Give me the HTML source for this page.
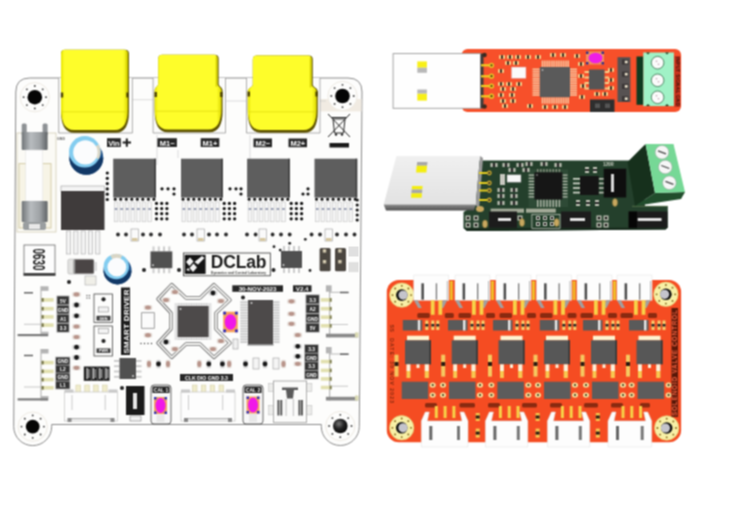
<!DOCTYPE html>
<html><head><meta charset="utf-8">
<style>
html,body{margin:0;padding:0;background:#fff;width:736px;height:515px;overflow:hidden}
svg{display:block;font-family:"Liberation Sans",sans-serif}
</style></head><body>
<svg width="736" height="515" viewBox="0 0 736 515">
<defs>
<filter id="soft" x="0" y="0" width="736" height="515" filterUnits="userSpaceOnUse" color-interpolation-filters="sRGB"><feConvolveMatrix order="3" kernelMatrix="1 2 1 2 4 2 1 2 1" divisor="16" edgeMode="duplicate"/></filter>
<linearGradient id="yel" x1="0" x2="1" y1="0" y2="0">
<stop offset="0" stop-color="#e6e400"/><stop offset="0.05" stop-color="#fefd2a"/><stop offset="0.93" stop-color="#fefd2a"/><stop offset="1" stop-color="#dcd800"/>
</linearGradient>
<linearGradient id="usbw" x1="0" x2="0" y1="0" y2="1">
<stop offset="0" stop-color="#f0f0f0"/><stop offset="1" stop-color="#e2e2e2"/>
</linearGradient>
<linearGradient id="usbs" x1="0" x2="0" y1="0" y2="1">
<stop offset="0" stop-color="#8e8e8e"/><stop offset="1" stop-color="#4e4e4e"/>
</linearGradient>
<linearGradient id="metal" x1="0" x2="1" y1="0" y2="0">
<stop offset="0" stop-color="#6f7477"/><stop offset="0.35" stop-color="#b8bcbf"/><stop offset="0.7" stop-color="#9ea2a5"/><stop offset="1" stop-color="#5f6366"/>
</linearGradient>
<radialGradient id="sph" cx="0.4" cy="0.35" r="0.7">
<stop offset="0" stop-color="#777"/><stop offset="0.5" stop-color="#222"/><stop offset="1" stop-color="#050505"/>
</radialGradient>
</defs>
<g filter="url(#soft)">
<rect x="0" y="0" width="736" height="515" fill="#fff"/>
<g id="left">
<path d="M15.8,92 Q15.8,78 29.8,78 L348,78 Q362,78 362,92 L359.3,426.5 A19,19 0 0 1 321.3,426.5 L321.3,424.5 L51.7,424.5 L51.7,426.6 A19,19 0 0 1 13.7,426.6 Z" fill="#fdfdfc" stroke="#8a8a8a" stroke-width="1"/>
<rect x="320.5" y="99.0" width="41.0" height="12.4" fill="#f1ebe2" />
<circle cx="342.5" cy="96.0" r="14.5" fill="#fdfdfc" />
<circle cx="34.8" cy="97.2" r="14.6" fill="none" stroke="#eeeae2" stroke-width="1"/>
<circle cx="34.8" cy="97.2" r="7.3" fill="#050505" />
<circle cx="46.0" cy="97.2" r="0.9" fill="#333" />
<circle cx="42.7" cy="105.1" r="0.9" fill="#333" />
<circle cx="34.8" cy="108.4" r="0.9" fill="#333" />
<circle cx="26.9" cy="105.1" r="0.9" fill="#333" />
<circle cx="23.6" cy="97.2" r="0.9" fill="#333" />
<circle cx="26.9" cy="89.3" r="0.9" fill="#333" />
<circle cx="34.8" cy="86.0" r="0.9" fill="#333" />
<circle cx="42.7" cy="89.3" r="0.9" fill="#333" />
<circle cx="342.5" cy="96.0" r="14.6" fill="none" stroke="#eeeae2" stroke-width="1"/>
<circle cx="342.5" cy="96.0" r="7.3" fill="#050505" />
<circle cx="353.7" cy="96.0" r="0.9" fill="#333" />
<circle cx="350.4" cy="103.9" r="0.9" fill="#333" />
<circle cx="342.5" cy="107.2" r="0.9" fill="#333" />
<circle cx="334.6" cy="103.9" r="0.9" fill="#333" />
<circle cx="331.3" cy="96.0" r="0.9" fill="#333" />
<circle cx="334.6" cy="88.1" r="0.9" fill="#333" />
<circle cx="342.5" cy="84.8" r="0.9" fill="#333" />
<circle cx="350.4" cy="88.1" r="0.9" fill="#333" />
<circle cx="32.7" cy="426.6" r="14.6" fill="none" stroke="#eeeae2" stroke-width="1"/>
<circle cx="32.7" cy="426.6" r="6.9" fill="#050505" />
<circle cx="43.9" cy="426.6" r="0.9" fill="#333" />
<circle cx="40.6" cy="434.5" r="0.9" fill="#333" />
<circle cx="32.7" cy="437.8" r="0.9" fill="#333" />
<circle cx="24.8" cy="434.5" r="0.9" fill="#333" />
<circle cx="21.5" cy="426.6" r="0.9" fill="#333" />
<circle cx="24.8" cy="418.7" r="0.9" fill="#333" />
<circle cx="32.7" cy="415.4" r="0.9" fill="#333" />
<circle cx="40.6" cy="418.7" r="0.9" fill="#333" />
<circle cx="340.3" cy="426.0" r="14.6" fill="none" stroke="#eeeae2" stroke-width="1"/>
<circle cx="340.3" cy="426.0" r="7.3" fill="url(#sph)" />
<circle cx="351.5" cy="426.0" r="0.9" fill="#333" />
<circle cx="348.2" cy="433.9" r="0.9" fill="#333" />
<circle cx="340.3" cy="437.2" r="0.9" fill="#333" />
<circle cx="332.4" cy="433.9" r="0.9" fill="#333" />
<circle cx="329.1" cy="426.0" r="0.9" fill="#333" />
<circle cx="332.4" cy="418.1" r="0.9" fill="#333" />
<circle cx="340.3" cy="414.8" r="0.9" fill="#333" />
<circle cx="348.2" cy="418.1" r="0.9" fill="#333" />
<path d="M132.4,99.7 L153,99.7 M157,135 L157,165 M178,150 L178,158 M226,101 L246,101 M250,135 L250,160 M320,101 L326,101" stroke="#c8c8c8" stroke-width="0.6" fill="none"/>
<path d="M58.7,78 L58.7,133 L132.4,133 L132.4,78" fill="#fcfcfb" stroke="#7a7a7a" stroke-width="0.6"/>
<path d="M153.1,78 L153.1,133 L225.5,133 L225.5,78" fill="#fcfcfb" stroke="#7a7a7a" stroke-width="0.6"/>
<path d="M246.5,78 L246.5,133 L320,133 L320,78" fill="#fcfcfb" stroke="#7a7a7a" stroke-width="0.6"/>
<path d="M61,53.7 Q61,49.7 65,49.7 L125,49.7 Q129,49.7 129,53.7 L129,90 C129,93 129,93 129,97 L129,111.80000000000001 C129,124.80000000000001 125,132.8 116,132.8 L74,132.8 C65,132.8 61,124.80000000000001 61,111.80000000000001 L61,97 C61,93 61,93 61,90 Z" fill="#5e5200"/>
<path d="M61,53.7 Q61,49.7 65,49.7 L123.8,49.7 Q127.8,49.7 127.8,53.7 L127.8,90 C127.8,93 127.8,93 127.8,97 L127.8,109.0 C127.8,122.0 123.8,130.0 114.8,130.0 L74,130.0 C65,130.0 61,122.0 61,109.0 L61,97 C61,93 61,93 61,90 Z" fill="url(#yel)"/>
<line x1="62" y1="111.80000000000001" x2="127" y2="111.80000000000001" stroke="#e0dc10" stroke-width="0.8"/>
<path d="M126.8,51.7 L126.8,93" stroke="#d4d000" stroke-width="1.6"/>
<path d="M158.2,58.7 Q158.2,54.7 162.2,54.7 L214.7,54.7 Q218.7,54.7 218.7,58.7 L218.7,83.7 C218.7,86.7 222.6,86.7 222.6,90.7 L222.6,111.19999999999999 C222.6,124.19999999999999 218.6,132.2 209.6,132.2 L167.7,132.2 C158.7,132.2 154.7,124.19999999999999 154.7,111.19999999999999 L154.7,90.7 C154.7,86.7 158.2,86.7 158.2,83.7 Z" fill="#5e5200"/>
<path d="M158.2,58.7 Q158.2,54.7 162.2,54.7 L213.5,54.7 Q217.5,54.7 217.5,58.7 L217.5,83.7 C217.5,86.7 221.4,86.7 221.4,90.7 L221.4,108.39999999999998 C221.4,121.39999999999998 217.4,129.39999999999998 208.4,129.39999999999998 L167.7,129.39999999999998 C158.7,129.39999999999998 154.7,121.39999999999998 154.7,108.39999999999998 L154.7,90.7 C154.7,86.7 158.2,86.7 158.2,83.7 Z" fill="url(#yel)"/>
<line x1="155.7" y1="111.19999999999999" x2="220.6" y2="111.19999999999999" stroke="#e0dc10" stroke-width="0.8"/>
<path d="M216.5,56.7 L216.5,86.7" stroke="#d4d000" stroke-width="1.6"/>
<path d="M252.8,59.5 Q252.8,55.5 256.8,55.5 L308.8,55.5 Q312.8,55.5 312.8,59.5 L312.8,84.5 C312.8,87.5 317.8,87.5 317.8,91.5 L317.8,111.80000000000001 C317.8,124.80000000000001 313.8,132.8 304.8,132.8 L260.8,132.8 C251.8,132.8 247.8,124.80000000000001 247.8,111.80000000000001 L247.8,91.5 C247.8,87.5 252.8,87.5 252.8,84.5 Z" fill="#5e5200"/>
<path d="M252.8,59.5 Q252.8,55.5 256.8,55.5 L307.6,55.5 Q311.6,55.5 311.6,59.5 L311.6,84.5 C311.6,87.5 316.6,87.5 316.6,91.5 L316.6,109.0 C316.6,122.0 312.6,130.0 303.6,130.0 L260.8,130.0 C251.8,130.0 247.8,122.0 247.8,109.0 L247.8,91.5 C247.8,87.5 252.8,87.5 252.8,84.5 Z" fill="url(#yel)"/>
<line x1="248.8" y1="111.80000000000001" x2="315.8" y2="111.80000000000001" stroke="#e0dc10" stroke-width="0.8"/>
<path d="M310.6,57.5 L310.6,87.5" stroke="#d4d000" stroke-width="1.6"/>
<rect x="60.8" y="92.5" width="2.4" height="5.0" fill="#4a4000" />
<rect x="126.3" y="92.5" width="2.4" height="5.0" fill="#4a4000" />
<rect x="154.5" y="92.0" width="2.4" height="5.0" fill="#4a4000" />
<rect x="220.2" y="92.0" width="2.4" height="5.0" fill="#4a4000" />
<rect x="247.6" y="91.5" width="2.4" height="5.0" fill="#4a4000" />
<rect x="315.4" y="91.5" width="2.4" height="5.0" fill="#4a4000" />
<rect x="17" y="133" width="39" height="99" fill="#fbfaf5" stroke="#d2ccb4" stroke-width="0.8"/>
<rect x="19" y="163.6" width="32" height="64.4" fill="#f7f4e6" stroke="#d4cca8" stroke-width="1"/>
<rect x="21.7" y="123.5" width="5" height="12" rx="1.5" fill="#8d9194"/>
<rect x="42.6" y="123.5" width="5" height="12" rx="1.5" fill="#8d9194"/>
<rect x="21.7" y="132" width="25.9" height="18" rx="1" fill="url(#metal)"/>
<rect x="25.8" y="150" width="17" height="51" fill="#fdfdfd" stroke="#ddd" stroke-width="0.5"/>
<rect x="21.7" y="201" width="25.9" height="21" rx="1" fill="url(#metal)"/>
<rect x="23" y="222" width="23" height="8" rx="2" fill="#9a9ea0"/>
<rect x="29" y="224" width="11" height="5" fill="#e8e8e8"/>
<circle cx="86.3" cy="157.7" r="17.0" fill="#1d5088" />
<path d="M69.3,157.7 A17,17 0 0 0 103.3,157.7 Z" fill="#123866"/>
<circle cx="84.8" cy="151.8" r="15.8" fill="#84cdf0" />
<path d="M84.8,151.8 L98.8,144.4 A15.8,15.8 0 0 1 98.8,159.2 Z" fill="#d9d6c6"/>
<circle cx="85.4" cy="152.4" r="12.2" fill="#fbfcfd" />
<circle cx="117.5" cy="270.4" r="14.0" fill="#1d5088" />
<path d="M103.5,270.4 A14,14 0 0 0 131.5,270.4 Z" fill="#123866"/>
<circle cx="116.3" cy="266.6" r="12.7" fill="#84cdf0" />
<path d="M116.3,266.6 L110.3,255.4 A12.7,12.7 0 0 1 122.3,255.4 Z" fill="#d9d6c6"/>
<circle cx="116.9" cy="267.2" r="9.4" fill="#fbfcfd" />
<rect x="61.0" y="186.0" width="43.5" height="5.5" fill="#f4f4f4" stroke="#999" stroke-width="0.6"/>
<rect x="61.0" y="191.0" width="43.5" height="39.0" fill="#3f3b3b" />
<rect x="66.5" y="231.0" width="4.2" height="23.0" fill="#f2f2f2" stroke="#a8a8a8" stroke-width="0.6"/>
<rect x="73.8" y="231.0" width="4.2" height="23.0" fill="#f2f2f2" stroke="#a8a8a8" stroke-width="0.6"/>
<rect x="81.1" y="231.0" width="4.2" height="23.0" fill="#f2f2f2" stroke="#a8a8a8" stroke-width="0.6"/>
<rect x="88.4" y="231.0" width="4.2" height="23.0" fill="#f2f2f2" stroke="#a8a8a8" stroke-width="0.6"/>
<rect x="95.7" y="231.0" width="4.2" height="23.0" fill="#f2f2f2" stroke="#a8a8a8" stroke-width="0.6"/>
<rect x="113.2" y="158.7" width="42.7" height="38.9" fill="#5e5e5e" />
<rect x="154.4" y="158.7" width="1.5" height="38.9" fill="#3c3c3c" />
<circle cx="115.2" cy="199.3" r="1.5" fill="#111" />
<circle cx="120.7" cy="199.3" r="1.5" fill="#111" />
<circle cx="126.3" cy="199.3" r="1.5" fill="#111" />
<circle cx="131.8" cy="199.3" r="1.5" fill="#111" />
<circle cx="137.3" cy="199.3" r="1.5" fill="#111" />
<circle cx="142.8" cy="199.3" r="1.5" fill="#111" />
<circle cx="148.4" cy="199.3" r="1.5" fill="#111" />
<circle cx="153.9" cy="199.3" r="1.5" fill="#111" />
<rect x="114.2" y="202.0" width="3.6" height="19.8" fill="#f6f6f6" stroke="#b9b9b9" stroke-width="0.5"/>
<rect x="114.7" y="208.0" width="2.6" height="2.0" fill="#9aa0b4" />
<rect x="119.8" y="202.0" width="3.6" height="19.8" fill="#f6f6f6" stroke="#b9b9b9" stroke-width="0.5"/>
<rect x="120.3" y="208.0" width="2.6" height="2.0" fill="#9aa0b4" />
<rect x="125.4" y="202.0" width="3.6" height="19.8" fill="#f6f6f6" stroke="#b9b9b9" stroke-width="0.5"/>
<rect x="125.9" y="208.0" width="2.6" height="2.0" fill="#9aa0b4" />
<rect x="131.0" y="202.0" width="3.6" height="19.8" fill="#f6f6f6" stroke="#b9b9b9" stroke-width="0.5"/>
<rect x="131.5" y="208.0" width="2.6" height="2.0" fill="#9aa0b4" />
<rect x="136.6" y="202.0" width="3.6" height="19.8" fill="#f6f6f6" stroke="#b9b9b9" stroke-width="0.5"/>
<rect x="137.1" y="208.0" width="2.6" height="2.0" fill="#9aa0b4" />
<rect x="142.2" y="202.0" width="3.6" height="19.8" fill="#f6f6f6" stroke="#b9b9b9" stroke-width="0.5"/>
<rect x="142.7" y="208.0" width="2.6" height="2.0" fill="#9aa0b4" />
<rect x="147.8" y="202.0" width="3.6" height="19.8" fill="#f6f6f6" stroke="#b9b9b9" stroke-width="0.5"/>
<rect x="148.3" y="208.0" width="2.6" height="2.0" fill="#9aa0b4" />
<rect x="181.0" y="158.7" width="41.8" height="38.9" fill="#5e5e5e" />
<rect x="221.3" y="158.7" width="1.5" height="38.9" fill="#3c3c3c" />
<circle cx="183.0" cy="199.3" r="1.5" fill="#111" />
<circle cx="188.4" cy="199.3" r="1.5" fill="#111" />
<circle cx="193.8" cy="199.3" r="1.5" fill="#111" />
<circle cx="199.2" cy="199.3" r="1.5" fill="#111" />
<circle cx="204.6" cy="199.3" r="1.5" fill="#111" />
<circle cx="210.0" cy="199.3" r="1.5" fill="#111" />
<circle cx="215.4" cy="199.3" r="1.5" fill="#111" />
<circle cx="220.8" cy="199.3" r="1.5" fill="#111" />
<rect x="182.0" y="202.0" width="3.6" height="19.8" fill="#f6f6f6" stroke="#b9b9b9" stroke-width="0.5"/>
<rect x="182.5" y="208.0" width="2.6" height="2.0" fill="#9aa0b4" />
<rect x="187.6" y="202.0" width="3.6" height="19.8" fill="#f6f6f6" stroke="#b9b9b9" stroke-width="0.5"/>
<rect x="188.1" y="208.0" width="2.6" height="2.0" fill="#9aa0b4" />
<rect x="193.2" y="202.0" width="3.6" height="19.8" fill="#f6f6f6" stroke="#b9b9b9" stroke-width="0.5"/>
<rect x="193.7" y="208.0" width="2.6" height="2.0" fill="#9aa0b4" />
<rect x="198.8" y="202.0" width="3.6" height="19.8" fill="#f6f6f6" stroke="#b9b9b9" stroke-width="0.5"/>
<rect x="199.3" y="208.0" width="2.6" height="2.0" fill="#9aa0b4" />
<rect x="204.4" y="202.0" width="3.6" height="19.8" fill="#f6f6f6" stroke="#b9b9b9" stroke-width="0.5"/>
<rect x="204.9" y="208.0" width="2.6" height="2.0" fill="#9aa0b4" />
<rect x="210.0" y="202.0" width="3.6" height="19.8" fill="#f6f6f6" stroke="#b9b9b9" stroke-width="0.5"/>
<rect x="210.5" y="208.0" width="2.6" height="2.0" fill="#9aa0b4" />
<rect x="215.6" y="202.0" width="3.6" height="19.8" fill="#f6f6f6" stroke="#b9b9b9" stroke-width="0.5"/>
<rect x="216.1" y="208.0" width="2.6" height="2.0" fill="#9aa0b4" />
<rect x="247.1" y="158.7" width="42.7" height="38.9" fill="#5e5e5e" />
<rect x="288.3" y="158.7" width="1.5" height="38.9" fill="#3c3c3c" />
<circle cx="249.1" cy="199.3" r="1.5" fill="#111" />
<circle cx="254.6" cy="199.3" r="1.5" fill="#111" />
<circle cx="260.2" cy="199.3" r="1.5" fill="#111" />
<circle cx="265.7" cy="199.3" r="1.5" fill="#111" />
<circle cx="271.2" cy="199.3" r="1.5" fill="#111" />
<circle cx="276.7" cy="199.3" r="1.5" fill="#111" />
<circle cx="282.3" cy="199.3" r="1.5" fill="#111" />
<circle cx="287.8" cy="199.3" r="1.5" fill="#111" />
<rect x="248.1" y="202.0" width="3.6" height="19.8" fill="#f6f6f6" stroke="#b9b9b9" stroke-width="0.5"/>
<rect x="248.6" y="208.0" width="2.6" height="2.0" fill="#9aa0b4" />
<rect x="253.7" y="202.0" width="3.6" height="19.8" fill="#f6f6f6" stroke="#b9b9b9" stroke-width="0.5"/>
<rect x="254.2" y="208.0" width="2.6" height="2.0" fill="#9aa0b4" />
<rect x="259.3" y="202.0" width="3.6" height="19.8" fill="#f6f6f6" stroke="#b9b9b9" stroke-width="0.5"/>
<rect x="259.8" y="208.0" width="2.6" height="2.0" fill="#9aa0b4" />
<rect x="264.9" y="202.0" width="3.6" height="19.8" fill="#f6f6f6" stroke="#b9b9b9" stroke-width="0.5"/>
<rect x="265.4" y="208.0" width="2.6" height="2.0" fill="#9aa0b4" />
<rect x="270.5" y="202.0" width="3.6" height="19.8" fill="#f6f6f6" stroke="#b9b9b9" stroke-width="0.5"/>
<rect x="271.0" y="208.0" width="2.6" height="2.0" fill="#9aa0b4" />
<rect x="276.1" y="202.0" width="3.6" height="19.8" fill="#f6f6f6" stroke="#b9b9b9" stroke-width="0.5"/>
<rect x="276.6" y="208.0" width="2.6" height="2.0" fill="#9aa0b4" />
<rect x="281.7" y="202.0" width="3.6" height="19.8" fill="#f6f6f6" stroke="#b9b9b9" stroke-width="0.5"/>
<rect x="282.2" y="208.0" width="2.6" height="2.0" fill="#9aa0b4" />
<rect x="314.5" y="158.7" width="42.7" height="38.9" fill="#5e5e5e" />
<rect x="355.7" y="158.7" width="1.5" height="38.9" fill="#3c3c3c" />
<circle cx="316.5" cy="199.3" r="1.5" fill="#111" />
<circle cx="322.0" cy="199.3" r="1.5" fill="#111" />
<circle cx="327.6" cy="199.3" r="1.5" fill="#111" />
<circle cx="333.1" cy="199.3" r="1.5" fill="#111" />
<circle cx="338.6" cy="199.3" r="1.5" fill="#111" />
<circle cx="344.1" cy="199.3" r="1.5" fill="#111" />
<circle cx="349.7" cy="199.3" r="1.5" fill="#111" />
<circle cx="355.2" cy="199.3" r="1.5" fill="#111" />
<rect x="315.5" y="202.0" width="3.6" height="19.8" fill="#f6f6f6" stroke="#b9b9b9" stroke-width="0.5"/>
<rect x="316.0" y="208.0" width="2.6" height="2.0" fill="#9aa0b4" />
<rect x="321.1" y="202.0" width="3.6" height="19.8" fill="#f6f6f6" stroke="#b9b9b9" stroke-width="0.5"/>
<rect x="321.6" y="208.0" width="2.6" height="2.0" fill="#9aa0b4" />
<rect x="326.7" y="202.0" width="3.6" height="19.8" fill="#f6f6f6" stroke="#b9b9b9" stroke-width="0.5"/>
<rect x="327.2" y="208.0" width="2.6" height="2.0" fill="#9aa0b4" />
<rect x="332.3" y="202.0" width="3.6" height="19.8" fill="#f6f6f6" stroke="#b9b9b9" stroke-width="0.5"/>
<rect x="332.8" y="208.0" width="2.6" height="2.0" fill="#9aa0b4" />
<rect x="337.9" y="202.0" width="3.6" height="19.8" fill="#f6f6f6" stroke="#b9b9b9" stroke-width="0.5"/>
<rect x="338.4" y="208.0" width="2.6" height="2.0" fill="#9aa0b4" />
<rect x="343.5" y="202.0" width="3.6" height="19.8" fill="#f6f6f6" stroke="#b9b9b9" stroke-width="0.5"/>
<rect x="344.0" y="208.0" width="2.6" height="2.0" fill="#9aa0b4" />
<rect x="349.1" y="202.0" width="3.6" height="19.8" fill="#f6f6f6" stroke="#b9b9b9" stroke-width="0.5"/>
<rect x="349.6" y="208.0" width="2.6" height="2.0" fill="#9aa0b4" />
<circle cx="156.5" cy="203.4" r="1.6" fill="#111" />
<circle cx="156.5" cy="208.6" r="1.6" fill="#111" />
<circle cx="156.5" cy="213.7" r="1.6" fill="#111" />
<circle cx="156.5" cy="218.8" r="1.6" fill="#111" />
<circle cx="161.7" cy="203.4" r="1.6" fill="#111" />
<circle cx="161.7" cy="208.6" r="1.6" fill="#111" />
<circle cx="161.7" cy="213.7" r="1.6" fill="#111" />
<circle cx="161.7" cy="218.8" r="1.6" fill="#111" />
<circle cx="166.9" cy="203.4" r="1.6" fill="#111" />
<circle cx="166.9" cy="208.6" r="1.6" fill="#111" />
<circle cx="166.9" cy="213.7" r="1.6" fill="#111" />
<circle cx="166.9" cy="218.8" r="1.6" fill="#111" />
<circle cx="224.2" cy="203.4" r="1.6" fill="#111" />
<circle cx="224.2" cy="208.6" r="1.6" fill="#111" />
<circle cx="224.2" cy="213.7" r="1.6" fill="#111" />
<circle cx="224.2" cy="218.8" r="1.6" fill="#111" />
<circle cx="229.4" cy="203.4" r="1.6" fill="#111" />
<circle cx="229.4" cy="208.6" r="1.6" fill="#111" />
<circle cx="229.4" cy="213.7" r="1.6" fill="#111" />
<circle cx="229.4" cy="218.8" r="1.6" fill="#111" />
<circle cx="234.6" cy="203.4" r="1.6" fill="#111" />
<circle cx="234.6" cy="208.6" r="1.6" fill="#111" />
<circle cx="234.6" cy="213.7" r="1.6" fill="#111" />
<circle cx="234.6" cy="218.8" r="1.6" fill="#111" />
<circle cx="291.2" cy="203.4" r="1.6" fill="#111" />
<circle cx="291.2" cy="208.6" r="1.6" fill="#111" />
<circle cx="291.2" cy="213.7" r="1.6" fill="#111" />
<circle cx="291.2" cy="218.8" r="1.6" fill="#111" />
<circle cx="296.4" cy="203.4" r="1.6" fill="#111" />
<circle cx="296.4" cy="208.6" r="1.6" fill="#111" />
<circle cx="296.4" cy="213.7" r="1.6" fill="#111" />
<circle cx="296.4" cy="218.8" r="1.6" fill="#111" />
<circle cx="301.6" cy="203.4" r="1.6" fill="#111" />
<circle cx="301.6" cy="208.6" r="1.6" fill="#111" />
<circle cx="301.6" cy="213.7" r="1.6" fill="#111" />
<circle cx="301.6" cy="218.8" r="1.6" fill="#111" />
<circle cx="357.2" cy="200.0" r="1.6" fill="#111" />
<circle cx="357.2" cy="205.0" r="1.6" fill="#111" />
<circle cx="357.2" cy="210.0" r="1.6" fill="#111" />
<circle cx="357.2" cy="215.0" r="1.6" fill="#111" />
<circle cx="357.2" cy="220.0" r="1.6" fill="#111" />
<circle cx="107.3" cy="173.0" r="1.6" fill="#111" />
<circle cx="107.3" cy="178.3" r="1.6" fill="#111" />
<circle cx="107.3" cy="183.6" r="1.6" fill="#111" />
<circle cx="107.3" cy="188.9" r="1.6" fill="#111" />
<circle cx="107.3" cy="194.2" r="1.6" fill="#111" />
<circle cx="107.3" cy="199.5" r="1.6" fill="#111" />
<circle cx="162.0" cy="188.8" r="1.6" fill="#111" />
<circle cx="168.0" cy="188.8" r="1.6" fill="#111" />
<circle cx="174.0" cy="188.8" r="1.6" fill="#111" />
<circle cx="174.0" cy="194.0" r="1.6" fill="#111" />
<circle cx="230.0" cy="188.8" r="1.6" fill="#111" />
<circle cx="236.0" cy="188.8" r="1.6" fill="#111" />
<circle cx="241.0" cy="188.8" r="1.6" fill="#111" />
<circle cx="241.0" cy="194.0" r="1.6" fill="#111" />
<circle cx="303.0" cy="194.0" r="1.6" fill="#111" />
<circle cx="308.0" cy="194.0" r="1.6" fill="#111" />
<circle cx="308.0" cy="188.8" r="1.6" fill="#111" />
<circle cx="118.0" cy="234.5" r="1.9" fill="#2a2a2a" />
<circle cx="126.0" cy="234.5" r="1.9" fill="#2a2a2a" />
<circle cx="143.0" cy="234.5" r="1.9" fill="#2a2a2a" />
<circle cx="151.0" cy="234.5" r="1.9" fill="#2a2a2a" />
<circle cx="160.0" cy="234.5" r="1.9" fill="#2a2a2a" />
<circle cx="184.0" cy="234.5" r="1.9" fill="#2a2a2a" />
<circle cx="192.0" cy="234.5" r="1.9" fill="#2a2a2a" />
<circle cx="209.0" cy="234.5" r="1.9" fill="#2a2a2a" />
<circle cx="217.0" cy="234.5" r="1.9" fill="#2a2a2a" />
<circle cx="226.0" cy="234.5" r="1.9" fill="#2a2a2a" />
<circle cx="247.0" cy="234.5" r="1.9" fill="#2a2a2a" />
<circle cx="255.6" cy="234.5" r="1.9" fill="#2a2a2a" />
<circle cx="272.6" cy="234.5" r="1.9" fill="#2a2a2a" />
<circle cx="281.0" cy="234.5" r="1.9" fill="#2a2a2a" />
<circle cx="289.7" cy="234.5" r="1.9" fill="#2a2a2a" />
<circle cx="311.6" cy="234.5" r="1.9" fill="#2a2a2a" />
<circle cx="320.0" cy="234.5" r="1.9" fill="#2a2a2a" />
<circle cx="337.0" cy="234.5" r="1.9" fill="#2a2a2a" />
<circle cx="346.0" cy="234.5" r="1.9" fill="#2a2a2a" />
<circle cx="354.5" cy="234.5" r="1.9" fill="#2a2a2a" />
<rect x="131.0" y="229.0" width="7.5" height="12.0" fill="#fafafa" stroke="#999" stroke-width="0.6"/>
<rect x="132.0" y="238.0" width="5.5" height="3.0" fill="#d6c7a0" />
<rect x="197.0" y="229.0" width="7.5" height="12.0" fill="#fafafa" stroke="#999" stroke-width="0.6"/>
<rect x="198.0" y="238.0" width="5.5" height="3.0" fill="#d6c7a0" />
<rect x="259.0" y="229.0" width="7.5" height="12.0" fill="#fafafa" stroke="#999" stroke-width="0.6"/>
<rect x="260.0" y="238.0" width="5.5" height="3.0" fill="#d6c7a0" />
<rect x="325.0" y="229.0" width="7.5" height="12.0" fill="#fafafa" stroke="#999" stroke-width="0.6"/>
<rect x="326.0" y="238.0" width="5.5" height="3.0" fill="#d6c7a0" />
<text x="57.0" y="140.0" font-size="3.6" fill="#666" font-weight="bold" >GND</text>
<rect x="107.0" y="138.2" width="13.8" height="8.8" fill="#262626" />
<text x="113.9" y="145.8" font-size="7.5" fill="#fff" font-weight="bold" text-anchor="middle">Vin</text>
<path d="M122.6,142.6 L131,142.6 M126.8,138.4 L126.8,146.8" stroke="#1a1a1a" stroke-width="2"/>
<rect x="157.4" y="138.2" width="19.5" height="8.8" fill="#262626" />
<text x="167.2" y="145.8" font-size="7.5" fill="#fff" font-weight="bold" text-anchor="middle">M1&#8722;</text>
<rect x="200.7" y="138.2" width="18.6" height="8.8" fill="#262626" />
<text x="210.0" y="145.8" font-size="7.5" fill="#fff" font-weight="bold" text-anchor="middle">M1+</text>
<rect x="253.5" y="138.5" width="18.5" height="8.7" fill="#262626" />
<text x="262.8" y="146.0" font-size="7.5" fill="#fff" font-weight="bold" text-anchor="middle">M2&#8722;</text>
<rect x="288.5" y="138.5" width="18.5" height="8.7" fill="#262626" />
<text x="297.8" y="146.0" font-size="7.5" fill="#fff" font-weight="bold" text-anchor="middle">M2+</text>
<g stroke="#222" stroke-width="1" fill="none"><path d="M333,119 L345,119 L343.5,133 L334.5,133 Z"/><path d="M331,117.5 L347,117.5"/><path d="M328,114 L350,137 M350,114 L328,137"/></g>
<circle cx="336.0" cy="134.5" r="1.2" fill="#222" />
<circle cx="342.0" cy="134.5" r="1.2" fill="#222" />
<rect x="329.5" y="143.0" width="19.5" height="4.5" fill="#1a1a1a" />
<rect x="24.0" y="245.0" width="31.0" height="30.3" fill="#fdfdfd" stroke="#666" stroke-width="0.8"/>
<rect x="23.6" y="273.0" width="31.8" height="2.8" fill="#444" />
<text x="0.0" y="0.0" font-size="16.5" fill="#1a1a1a" font-weight="bold" transform="translate(32.6,248.5) rotate(90)" textLength="22" lengthAdjust="spacingAndGlyphs">0630</text>
<rect x="67.9" y="259.2" width="26" height="14.8" rx="1.5" fill="#e2e2e0" stroke="#b0b0b0" stroke-width="0.6"/>
<rect x="93.5" y="262.0" width="3.5" height="9.0" fill="#dcdcdc" />
<rect x="73.7" y="259.6" width="20" height="14" rx="1.2" fill="#4a4545"/>
<rect x="73.7" y="259.6" width="1.5" height="14.0" fill="#9a9a9a" />
<rect x="85.0" y="276.0" width="11.0" height="9.0" fill="#f0efe8" stroke="#aaa" stroke-width="0.6"/>
<circle cx="69.0" cy="282.0" r="2.0" fill="#222" />
<rect x="152.5" y="246.4" width="2.0" height="5.0" fill="#ccc" />
<rect x="152.5" y="268.2" width="2.0" height="5.0" fill="#ccc" />
<rect x="157.8" y="246.4" width="2.0" height="5.0" fill="#ccc" />
<rect x="157.8" y="268.2" width="2.0" height="5.0" fill="#ccc" />
<rect x="163.0" y="246.4" width="2.0" height="5.0" fill="#ccc" />
<rect x="163.0" y="268.2" width="2.0" height="5.0" fill="#ccc" />
<rect x="168.3" y="246.4" width="2.0" height="5.0" fill="#ccc" />
<rect x="168.3" y="268.2" width="2.0" height="5.0" fill="#ccc" />
<rect x="150.5" y="251.4" width="21.8" height="16.8" fill="#505050" />
<circle cx="153.0" cy="265.2" r="0.9" fill="#ddd" />
<rect x="283.0" y="246.0" width="2.0" height="5.0" fill="#ccc" />
<rect x="283.0" y="268.0" width="2.0" height="5.0" fill="#ccc" />
<rect x="288.0" y="246.0" width="2.0" height="5.0" fill="#ccc" />
<rect x="288.0" y="268.0" width="2.0" height="5.0" fill="#ccc" />
<rect x="293.0" y="246.0" width="2.0" height="5.0" fill="#ccc" />
<rect x="293.0" y="268.0" width="2.0" height="5.0" fill="#ccc" />
<rect x="298.0" y="246.0" width="2.0" height="5.0" fill="#ccc" />
<rect x="298.0" y="268.0" width="2.0" height="5.0" fill="#ccc" />
<rect x="281.0" y="251.0" width="21.0" height="17.0" fill="#505050" />
<circle cx="283.5" cy="265.0" r="0.9" fill="#ddd" />
<rect x="114.0" y="360.0" width="5.5" height="1.8" fill="#c8c8c8" />
<rect x="136.0" y="360.0" width="5.5" height="1.8" fill="#c8c8c8" />
<rect x="114.0" y="365.3" width="5.5" height="1.8" fill="#c8c8c8" />
<rect x="136.0" y="365.3" width="5.5" height="1.8" fill="#c8c8c8" />
<rect x="114.0" y="370.6" width="5.5" height="1.8" fill="#c8c8c8" />
<rect x="136.0" y="370.6" width="5.5" height="1.8" fill="#c8c8c8" />
<rect x="114.0" y="375.9" width="5.5" height="1.8" fill="#c8c8c8" />
<rect x="136.0" y="375.9" width="5.5" height="1.8" fill="#c8c8c8" />
<rect x="119.5" y="358.0" width="16.5" height="21.0" fill="#505050" />
<circle cx="133.0" cy="376.0" r="0.9" fill="#ddd" />
<rect x="183.4" y="253.0" width="86.9" height="22.8" fill="#fcfcfa" stroke="#333" stroke-width="0.8"/>
<rect x="184.7" y="254.8" width="20.9" height="19.1" fill="#141414" />
<path d="M186,262 L190,257.5 L193.5,261.5 L189.5,266 Z M189.5,268 L193.5,263.5 L197,267.5 L193,272 Z M194.5,262 L202,256 L204.5,258 L198,264.5 Z M186,270 L188.5,268 L190,271 Z" fill="#f4f4f4"/>
<text x="210.8" y="268.2" font-size="17.5" fill="#1a1a1a" font-weight="bold" textLength="55.7">DCLab</text>
<text x="211.0" y="273.6" font-size="3.2" fill="#333" font-weight="bold" textLength="55">Dynamics and Control Laboratory</text>
<circle cx="144.0" cy="270.0" r="2.0" fill="#222" />
<circle cx="179.0" cy="270.0" r="2.0" fill="#222" />
<circle cx="273.5" cy="270.0" r="2.0" fill="#222" />
<rect x="319.6" y="248.1" width="11" height="23.1" rx="1.5" fill="#4b4640"/>
<rect x="322.8" y="249.2" width="3.4" height="3.4" fill="#d4cab0" />
<rect x="322.8" y="260.0" width="3.4" height="3.4" fill="#d4cab0" />
<rect x="335" y="248.1" width="11" height="23.1" rx="1.5" fill="#4b4640"/>
<rect x="338.2" y="249.2" width="3.4" height="3.4" fill="#d4cab0" />
<rect x="338.2" y="260.0" width="3.4" height="3.4" fill="#d4cab0" />
<rect x="349.0" y="247.0" width="1.0" height="1.0" fill="#8a8a8a" />
<rect x="349.0" y="249.0" width="1.0" height="1.0" fill="#8a8a8a" />
<rect x="349.0" y="251.0" width="1.0" height="1.0" fill="#8a8a8a" />
<rect x="349.0" y="253.0" width="1.0" height="1.0" fill="#8a8a8a" />
<rect x="349.0" y="255.0" width="1.0" height="1.0" fill="#8a8a8a" />
<rect x="351.0" y="247.0" width="1.0" height="1.0" fill="#8a8a8a" />
<rect x="351.0" y="249.0" width="1.0" height="1.0" fill="#8a8a8a" />
<rect x="351.0" y="251.0" width="1.0" height="1.0" fill="#8a8a8a" />
<rect x="351.0" y="253.0" width="1.0" height="1.0" fill="#8a8a8a" />
<rect x="351.0" y="255.0" width="1.0" height="1.0" fill="#8a8a8a" />
<rect x="353.0" y="247.0" width="1.0" height="1.0" fill="#8a8a8a" />
<rect x="353.0" y="249.0" width="1.0" height="1.0" fill="#8a8a8a" />
<rect x="353.0" y="251.0" width="1.0" height="1.0" fill="#8a8a8a" />
<rect x="353.0" y="253.0" width="1.0" height="1.0" fill="#8a8a8a" />
<rect x="353.0" y="255.0" width="1.0" height="1.0" fill="#8a8a8a" />
<rect x="355.0" y="247.0" width="1.0" height="1.0" fill="#8a8a8a" />
<rect x="355.0" y="249.0" width="1.0" height="1.0" fill="#8a8a8a" />
<rect x="355.0" y="251.0" width="1.0" height="1.0" fill="#8a8a8a" />
<rect x="355.0" y="253.0" width="1.0" height="1.0" fill="#8a8a8a" />
<rect x="355.0" y="255.0" width="1.0" height="1.0" fill="#8a8a8a" />
<rect x="357.0" y="247.0" width="1.0" height="1.0" fill="#8a8a8a" />
<rect x="357.0" y="249.0" width="1.0" height="1.0" fill="#8a8a8a" />
<rect x="357.0" y="251.0" width="1.0" height="1.0" fill="#8a8a8a" />
<rect x="357.0" y="253.0" width="1.0" height="1.0" fill="#8a8a8a" />
<rect x="357.0" y="255.0" width="1.0" height="1.0" fill="#8a8a8a" />
<rect x="349.0" y="262.6" width="1.0" height="1.0" fill="#8a8a8a" />
<rect x="349.0" y="264.6" width="1.0" height="1.0" fill="#8a8a8a" />
<rect x="349.0" y="266.6" width="1.0" height="1.0" fill="#8a8a8a" />
<rect x="349.0" y="268.6" width="1.0" height="1.0" fill="#8a8a8a" />
<rect x="349.0" y="270.6" width="1.0" height="1.0" fill="#8a8a8a" />
<rect x="351.0" y="262.6" width="1.0" height="1.0" fill="#8a8a8a" />
<rect x="351.0" y="264.6" width="1.0" height="1.0" fill="#8a8a8a" />
<rect x="351.0" y="266.6" width="1.0" height="1.0" fill="#8a8a8a" />
<rect x="351.0" y="268.6" width="1.0" height="1.0" fill="#8a8a8a" />
<rect x="351.0" y="270.6" width="1.0" height="1.0" fill="#8a8a8a" />
<rect x="353.0" y="262.6" width="1.0" height="1.0" fill="#8a8a8a" />
<rect x="353.0" y="264.6" width="1.0" height="1.0" fill="#8a8a8a" />
<rect x="353.0" y="266.6" width="1.0" height="1.0" fill="#8a8a8a" />
<rect x="353.0" y="268.6" width="1.0" height="1.0" fill="#8a8a8a" />
<rect x="353.0" y="270.6" width="1.0" height="1.0" fill="#8a8a8a" />
<rect x="355.0" y="262.6" width="1.0" height="1.0" fill="#8a8a8a" />
<rect x="355.0" y="264.6" width="1.0" height="1.0" fill="#8a8a8a" />
<rect x="355.0" y="266.6" width="1.0" height="1.0" fill="#8a8a8a" />
<rect x="355.0" y="268.6" width="1.0" height="1.0" fill="#8a8a8a" />
<rect x="355.0" y="270.6" width="1.0" height="1.0" fill="#8a8a8a" />
<rect x="357.0" y="262.6" width="1.0" height="1.0" fill="#8a8a8a" />
<rect x="357.0" y="264.6" width="1.0" height="1.0" fill="#8a8a8a" />
<rect x="357.0" y="266.6" width="1.0" height="1.0" fill="#8a8a8a" />
<rect x="357.0" y="268.6" width="1.0" height="1.0" fill="#8a8a8a" />
<rect x="357.0" y="270.6" width="1.0" height="1.0" fill="#8a8a8a" />
<circle cx="305.3" cy="239.3" r="1.4" fill="#222" />
<circle cx="274.0" cy="246.7" r="1.4" fill="#222" />
<circle cx="280.2" cy="250.1" r="1.4" fill="#222" />
<circle cx="289.7" cy="243.3" r="1.4" fill="#222" />
<circle cx="310.0" cy="270.5" r="1.4" fill="#222" />
<rect x="232.3" y="285.3" width="50.7" height="6.5" fill="#262626" />
<text x="257.6" y="290.6" font-size="6.2" fill="#fff" font-weight="bold" text-anchor="middle">30-NOV-2023</text>
<rect x="293.0" y="285.3" width="18.5" height="6.5" fill="#262626" />
<text x="302.2" y="290.6" font-size="6.2" fill="#fff" font-weight="bold" text-anchor="middle">V2.4</text>
<line x1="41" y1="286.3" x2="41" y2="336.2" stroke="#a9a9a9" stroke-width="1"/>
<rect x="41.0" y="286.3" width="7.5" height="4.5" fill="#b4b4b4" />
<rect x="41.0" y="331.7" width="7.5" height="4.5" fill="#b8b8b8" />
<line x1="24" y1="292.8" x2="33" y2="292.8" stroke="#5a5a5a" stroke-width="1.4"/>
<line x1="24" y1="324.3" x2="41" y2="324.3" stroke="#b9b9b9" stroke-width="0.8"/>
<rect x="17.6" y="334.0" width="30.4" height="2.2" fill="#7a7a7a" />
<rect x="41.6" y="298.1" width="12.0" height="3.6" fill="#e2e0b0" />
<rect x="41.6" y="298.1" width="2.0" height="3.6" fill="#6a6a40" />
<rect x="41.6" y="306.9" width="12.0" height="3.6" fill="#e2e0b0" />
<rect x="41.6" y="306.9" width="2.0" height="3.6" fill="#6a6a40" />
<rect x="41.6" y="315.1" width="12.0" height="3.6" fill="#e2e0b0" />
<rect x="41.6" y="315.1" width="2.0" height="3.6" fill="#6a6a40" />
<rect x="41.6" y="323.3" width="12.0" height="3.6" fill="#e2e0b0" />
<rect x="41.6" y="323.3" width="2.0" height="3.6" fill="#6a6a40" />
<line x1="41" y1="349" x2="41" y2="400.5" stroke="#a9a9a9" stroke-width="1"/>
<rect x="41.0" y="349.0" width="7.5" height="4.5" fill="#b4b4b4" />
<rect x="41.0" y="396.0" width="7.5" height="4.5" fill="#b8b8b8" />
<line x1="24" y1="355.5" x2="33" y2="355.5" stroke="#5a5a5a" stroke-width="1.4"/>
<line x1="24" y1="387" x2="41" y2="387" stroke="#b9b9b9" stroke-width="0.8"/>
<rect x="17.6" y="398.3" width="30.4" height="2.2" fill="#7a7a7a" />
<rect x="41.6" y="360.8" width="12.0" height="3.6" fill="#e2e0b0" />
<rect x="41.6" y="360.8" width="2.0" height="3.6" fill="#6a6a40" />
<rect x="41.6" y="369.6" width="12.0" height="3.6" fill="#e2e0b0" />
<rect x="41.6" y="369.6" width="2.0" height="3.6" fill="#6a6a40" />
<rect x="41.6" y="377.8" width="12.0" height="3.6" fill="#e2e0b0" />
<rect x="41.6" y="377.8" width="2.0" height="3.6" fill="#6a6a40" />
<rect x="41.6" y="386.0" width="12.0" height="3.6" fill="#e2e0b0" />
<rect x="41.6" y="386.0" width="2.0" height="3.6" fill="#6a6a40" />
<line x1="329.7" y1="286.3" x2="329.7" y2="337.4" stroke="#a9a9a9" stroke-width="1"/>
<rect x="325.9" y="285.3" width="5.7" height="6.4" fill="#b4b4b4" />
<line x1="329.7" y1="292.3" x2="348.6" y2="292.3" stroke="#b0b0b0" stroke-width="0.9"/>
<line x1="340" y1="292.5" x2="348.6" y2="292.5" stroke="#5a5a5a" stroke-width="1.4"/>
<line x1="330" y1="324.5" x2="348" y2="324.5" stroke="#b9b9b9" stroke-width="0.8"/>
<rect x="325.9" y="333.7" width="32.1" height="3.7" fill="#8a8a8a" />
<rect x="355.0" y="332.4" width="3.5" height="5.0" fill="#d8d8b0" />
<rect x="320.8" y="298.1" width="10.8" height="3.6" fill="#e2e0b0" />
<rect x="329.6" y="298.1" width="2.0" height="3.6" fill="#7a7a50" />
<rect x="320.8" y="306.9" width="10.8" height="3.6" fill="#e2e0b0" />
<rect x="329.6" y="306.9" width="2.0" height="3.6" fill="#7a7a50" />
<rect x="320.8" y="315.4" width="10.8" height="3.6" fill="#e2e0b0" />
<rect x="329.6" y="315.4" width="2.0" height="3.6" fill="#7a7a50" />
<rect x="320.8" y="324.0" width="10.8" height="3.6" fill="#e2e0b0" />
<rect x="329.6" y="324.0" width="2.0" height="3.6" fill="#7a7a50" />
<line x1="329.7" y1="348" x2="329.7" y2="400.5" stroke="#a9a9a9" stroke-width="1"/>
<rect x="325.9" y="347.0" width="5.7" height="6.4" fill="#b4b4b4" />
<line x1="329.7" y1="354" x2="348.6" y2="354" stroke="#b0b0b0" stroke-width="0.9"/>
<line x1="340" y1="354.2" x2="348.6" y2="354.2" stroke="#5a5a5a" stroke-width="1.4"/>
<line x1="330" y1="386.2" x2="348" y2="386.2" stroke="#b9b9b9" stroke-width="0.8"/>
<rect x="325.9" y="396.8" width="32.1" height="3.7" fill="#8a8a8a" />
<rect x="355.0" y="395.5" width="3.5" height="5.0" fill="#d8d8b0" />
<rect x="320.8" y="359.8" width="10.8" height="3.6" fill="#e2e0b0" />
<rect x="329.6" y="359.8" width="2.0" height="3.6" fill="#7a7a50" />
<rect x="320.8" y="368.6" width="10.8" height="3.6" fill="#e2e0b0" />
<rect x="329.6" y="368.6" width="2.0" height="3.6" fill="#7a7a50" />
<rect x="320.8" y="377.1" width="10.8" height="3.6" fill="#e2e0b0" />
<rect x="329.6" y="377.1" width="2.0" height="3.6" fill="#7a7a50" />
<rect x="320.8" y="385.7" width="10.8" height="3.6" fill="#e2e0b0" />
<rect x="329.6" y="385.7" width="2.0" height="3.6" fill="#7a7a50" />
<rect x="56.5" y="295.6" width="13.0" height="37.0" fill="#b0b0b0" />
<rect x="57.3" y="296.4" width="11.4" height="7.9" fill="#333" />
<text x="63.0" y="302.5" font-size="4.8" fill="#fff" font-weight="bold" text-anchor="middle">5V</text>
<rect x="57.3" y="305.6" width="11.4" height="7.9" fill="#333" />
<text x="63.0" y="311.7" font-size="4.8" fill="#fff" font-weight="bold" text-anchor="middle">GND</text>
<rect x="57.3" y="314.7" width="11.4" height="7.9" fill="#333" />
<text x="63.0" y="320.8" font-size="4.8" fill="#fff" font-weight="bold" text-anchor="middle">A1</text>
<rect x="57.3" y="323.9" width="11.4" height="7.9" fill="#333" />
<text x="63.0" y="330.0" font-size="4.8" fill="#fff" font-weight="bold" text-anchor="middle">3.3</text>
<rect x="55.2" y="356.7" width="15.1" height="32.7" fill="#b0b0b0" />
<rect x="56.0" y="357.5" width="13.5" height="7.1" fill="#333" />
<text x="62.8" y="362.8" font-size="4.8" fill="#fff" font-weight="bold" text-anchor="middle">GND</text>
<rect x="56.0" y="365.5" width="13.5" height="7.1" fill="#333" />
<text x="62.8" y="370.8" font-size="4.8" fill="#fff" font-weight="bold" text-anchor="middle">L2</text>
<rect x="56.0" y="373.5" width="13.5" height="7.1" fill="#333" />
<text x="62.8" y="378.8" font-size="4.8" fill="#fff" font-weight="bold" text-anchor="middle">GND</text>
<rect x="56.0" y="381.5" width="13.5" height="7.1" fill="#333" />
<text x="62.8" y="386.8" font-size="4.8" fill="#fff" font-weight="bold" text-anchor="middle">L1</text>
<rect x="305.5" y="294.4" width="14.2" height="38.2" fill="#b0b0b0" />
<rect x="306.3" y="295.2" width="12.6" height="8.2" fill="#333" />
<text x="312.6" y="301.6" font-size="4.8" fill="#fff" font-weight="bold" text-anchor="middle">3.3</text>
<rect x="306.3" y="304.7" width="12.6" height="8.2" fill="#333" />
<text x="312.6" y="311.1" font-size="4.8" fill="#fff" font-weight="bold" text-anchor="middle">A2</text>
<rect x="306.3" y="314.1" width="12.6" height="8.2" fill="#333" />
<text x="312.6" y="320.5" font-size="4.8" fill="#fff" font-weight="bold" text-anchor="middle">GND</text>
<rect x="306.3" y="323.6" width="12.6" height="8.2" fill="#333" />
<text x="312.6" y="330.0" font-size="4.8" fill="#fff" font-weight="bold" text-anchor="middle">5V</text>
<rect x="304.2" y="344.2" width="14.6" height="35.1" fill="#b0b0b0" />
<rect x="305.0" y="345.0" width="13.0" height="7.7" fill="#333" />
<text x="311.5" y="350.9" font-size="4.8" fill="#fff" font-weight="bold" text-anchor="middle">3.3</text>
<rect x="305.0" y="353.6" width="13.0" height="7.7" fill="#333" />
<text x="311.5" y="359.5" font-size="4.8" fill="#fff" font-weight="bold" text-anchor="middle">GND</text>
<rect x="305.0" y="362.2" width="13.0" height="7.7" fill="#333" />
<text x="311.5" y="368.1" font-size="4.8" fill="#fff" font-weight="bold" text-anchor="middle">3.3</text>
<rect x="305.0" y="370.8" width="13.0" height="7.7" fill="#333" />
<text x="311.5" y="376.7" font-size="4.8" fill="#fff" font-weight="bold" text-anchor="middle">GND</text>
<rect x="121.0" y="287.5" width="9.0" height="67.5" fill="#1e1e1e" />
<text x="0.0" y="0.0" font-size="8" fill="#fff" font-weight="bold" transform="translate(128.6,353.5) rotate(-90)" textLength="64">SMART DRIVER</text>
<rect x="94.0" y="294.0" width="18.5" height="28.5" fill="none" stroke="#444" stroke-width="0.8"/>
<rect x="94.0" y="326.0" width="18.5" height="30.0" fill="none" stroke="#444" stroke-width="0.8"/>
<circle cx="103.5" cy="299.3" r="2.1" fill="#222" />
<rect x="98.5" y="307.0" width="10.0" height="5.0" fill="#f2f2f2" stroke="#777" stroke-width="0.5"/>
<rect x="96.5" y="315.8" width="14.0" height="4.8" fill="#3a3a3a" />
<text x="103.5" y="319.8" font-size="3.8" fill="#fff" font-weight="bold" text-anchor="middle">DEN</text>
<rect x="98.5" y="328.4" width="10.0" height="4.9" fill="#f2f2f2" stroke="#777" stroke-width="0.5"/>
<circle cx="103.5" cy="341.0" r="2.1" fill="#222" />
<rect x="96.5" y="348.4" width="14.0" height="4.5" fill="#3a3a3a" />
<text x="103.5" y="352.3" font-size="3.8" fill="#fff" font-weight="bold" text-anchor="middle">PWR</text>
<rect x="72.2" y="292.0" width="8.6" height="4.8" rx="1.5" fill="#e6dfda"/>
<ellipse cx="76.5" cy="294.4" rx="2.9" ry="2.1" fill="#b8948a"/>
<rect x="72.2" y="302.6" width="8.6" height="4.8" rx="1.5" fill="#d6d6d6"/>
<circle cx="76.5" cy="305.0" r="2.4" fill="#161616" />
<rect x="72.2" y="313.4" width="8.6" height="4.8" rx="1.5" fill="#d6d6d6"/>
<circle cx="76.5" cy="315.8" r="2.4" fill="#161616" />
<rect x="72.2" y="324.1" width="8.6" height="4.8" rx="1.5" fill="#e6dfda"/>
<ellipse cx="76.5" cy="326.5" rx="2.9" ry="2.1" fill="#b8948a"/>
<rect x="72.2" y="334.6" width="8.6" height="4.8" rx="1.5" fill="#e6dfda"/>
<ellipse cx="76.5" cy="337" rx="2.9" ry="2.1" fill="#b8948a"/>
<rect x="72.2" y="344.8" width="8.6" height="4.8" rx="1.5" fill="#d6d6d6"/>
<circle cx="76.5" cy="347.2" r="2.4" fill="#161616" />
<rect x="72.2" y="355.1" width="8.6" height="4.8" rx="1.5" fill="#d6d6d6"/>
<circle cx="76.5" cy="357.5" r="2.4" fill="#161616" />
<rect x="72.2" y="365.4" width="8.6" height="4.8" rx="1.5" fill="#e6dfda"/>
<ellipse cx="76.5" cy="367.8" rx="2.9" ry="2.1" fill="#b8948a"/>
<rect x="86.4" y="294.9" width="1.2" height="1.2" fill="#555" />
<rect x="88.9" y="294.9" width="1.2" height="1.2" fill="#555" />
<rect x="86.4" y="297.4" width="1.2" height="1.2" fill="#555" />
<rect x="88.9" y="297.4" width="1.2" height="1.2" fill="#555" />
<path d="M171.7,284.6 L186,298 L200,298 L214,284.6 L230,300 L216,313 L216,329 L230,343 L214,357.4 L200,344 L186,344 L171.7,357.4 L158,343 L171,329 L171,313 L158,299 Z" fill="none" stroke="#6a6a6a" stroke-width="3.4" stroke-linejoin="round"/>
<path d="M171.7,284.6 L186,298 L200,298 L214,284.6 L230,300 L216,313 L216,329 L230,343 L214,357.4 L200,344 L186,344 L171.7,357.4 L158,343 L171,329 L171,313 L158,299 Z" fill="none" stroke="#f4f4f2" stroke-width="1.8" stroke-linejoin="round"/>
<rect x="174.5" y="303.0" width="37.0" height="37.0" fill="#e3e3e3" />
<line x1="179.0" y1="303" x2="179.0" y2="340" stroke="#bbb" stroke-width="0.5"/>
<line x1="181.5" y1="303" x2="181.5" y2="340" stroke="#bbb" stroke-width="0.5"/>
<line x1="184.0" y1="303" x2="184.0" y2="340" stroke="#bbb" stroke-width="0.5"/>
<line x1="186.5" y1="303" x2="186.5" y2="340" stroke="#bbb" stroke-width="0.5"/>
<line x1="189.0" y1="303" x2="189.0" y2="340" stroke="#bbb" stroke-width="0.5"/>
<line x1="191.5" y1="303" x2="191.5" y2="340" stroke="#bbb" stroke-width="0.5"/>
<line x1="194.0" y1="303" x2="194.0" y2="340" stroke="#bbb" stroke-width="0.5"/>
<line x1="196.5" y1="303" x2="196.5" y2="340" stroke="#bbb" stroke-width="0.5"/>
<line x1="199.0" y1="303" x2="199.0" y2="340" stroke="#bbb" stroke-width="0.5"/>
<line x1="201.5" y1="303" x2="201.5" y2="340" stroke="#bbb" stroke-width="0.5"/>
<line x1="204.0" y1="303" x2="204.0" y2="340" stroke="#bbb" stroke-width="0.5"/>
<line x1="206.5" y1="303" x2="206.5" y2="340" stroke="#bbb" stroke-width="0.5"/>
<rect x="177.6" y="306.0" width="31.0" height="31.0" fill="#4d4a4a" />
<circle cx="180.5" cy="309.0" r="0.9" fill="#ddd" />
<rect x="170.7" y="289.6" width="8.6" height="4.8" rx="1.5" fill="#e6dfda"/>
<ellipse cx="175" cy="292" rx="2.9" ry="2.1" fill="#b8948a"/>
<rect x="161.7" y="297.6" width="8.6" height="4.8" rx="1.5" fill="#e6dfda"/>
<ellipse cx="166" cy="300" rx="2.9" ry="2.1" fill="#b8948a"/>
<rect x="208.7" y="290.6" width="8.6" height="4.8" rx="1.5" fill="#d6d6d6"/>
<circle cx="213.0" cy="293.0" r="2.4" fill="#161616" />
<rect x="216.7" y="298.6" width="8.6" height="4.8" rx="1.5" fill="#e6dfda"/>
<ellipse cx="221" cy="301" rx="2.9" ry="2.1" fill="#b8948a"/>
<rect x="161.7" y="339.6" width="8.6" height="4.8" rx="1.5" fill="#d6d6d6"/>
<circle cx="166.0" cy="342.0" r="2.4" fill="#161616" />
<rect x="170.7" y="346.6" width="8.6" height="4.8" rx="1.5" fill="#e6dfda"/>
<ellipse cx="175" cy="349" rx="2.9" ry="2.1" fill="#b8948a"/>
<rect x="208.7" y="346.6" width="8.6" height="4.8" rx="1.5" fill="#e6dfda"/>
<ellipse cx="213" cy="349" rx="2.9" ry="2.1" fill="#b8948a"/>
<rect x="216.7" y="338.6" width="8.6" height="4.8" rx="1.5" fill="#e6dfda"/>
<ellipse cx="221" cy="341" rx="2.9" ry="2.1" fill="#b8948a"/>
<rect x="141.6" y="312.7" width="12.7" height="15.6" fill="#fbfbfb" stroke="#888" stroke-width="0.8"/>
<rect x="143.7" y="305.1" width="8.6" height="4.8" rx="1.5" fill="#e6dfda"/>
<ellipse cx="148" cy="307.5" rx="2.9" ry="2.1" fill="#b8948a"/>
<rect x="143.7" y="332.8" width="8.6" height="4.8" rx="1.5" fill="#e6dfda"/>
<ellipse cx="148" cy="335.2" rx="2.9" ry="2.1" fill="#b8948a"/>
<circle cx="141.0" cy="343.5" r="0.7" fill="#333" />
<circle cx="144.5" cy="343.5" r="0.7" fill="#333" />
<circle cx="148.0" cy="343.5" r="0.7" fill="#333" />
<circle cx="151.5" cy="343.5" r="0.7" fill="#333" />
<rect x="223.2" y="311.7" width="14.6" height="20.6" fill="#f4a15c" />
<rect x="223.2" y="311.7" width="2.8" height="2.8" fill="#2a2ab8" />
<rect x="235.0" y="311.7" width="2.8" height="2.8" fill="#2a2ab8" />
<rect x="223.2" y="329.5" width="2.8" height="2.8" fill="#2a2ab8" />
<rect x="235.0" y="329.5" width="2.8" height="2.8" fill="#2a2ab8" />
<ellipse cx="230.5" cy="322" rx="5.8" ry="7.8" fill="#f018e8"/>
<rect x="240.3" y="300.0" width="39.7" height="44.0" fill="#f6f6f6" />
<rect x="240.3" y="301.5" width="7.7" height="1.5" fill="#c4c4c4" />
<rect x="273.0" y="301.5" width="6.5" height="1.5" fill="#c4c4c4" />
<rect x="240.3" y="304.1" width="7.7" height="1.5" fill="#c4c4c4" />
<rect x="273.0" y="304.1" width="6.5" height="1.5" fill="#c4c4c4" />
<rect x="240.3" y="306.8" width="7.7" height="1.5" fill="#c4c4c4" />
<rect x="273.0" y="306.8" width="6.5" height="1.5" fill="#c4c4c4" />
<rect x="240.3" y="309.4" width="7.7" height="1.5" fill="#c4c4c4" />
<rect x="273.0" y="309.4" width="6.5" height="1.5" fill="#c4c4c4" />
<rect x="240.3" y="312.1" width="7.7" height="1.5" fill="#c4c4c4" />
<rect x="273.0" y="312.1" width="6.5" height="1.5" fill="#c4c4c4" />
<rect x="240.3" y="314.8" width="7.7" height="1.5" fill="#c4c4c4" />
<rect x="273.0" y="314.8" width="6.5" height="1.5" fill="#c4c4c4" />
<rect x="240.3" y="317.4" width="7.7" height="1.5" fill="#c4c4c4" />
<rect x="273.0" y="317.4" width="6.5" height="1.5" fill="#c4c4c4" />
<rect x="240.3" y="320.1" width="7.7" height="1.5" fill="#c4c4c4" />
<rect x="273.0" y="320.1" width="6.5" height="1.5" fill="#c4c4c4" />
<rect x="240.3" y="322.7" width="7.7" height="1.5" fill="#c4c4c4" />
<rect x="273.0" y="322.7" width="6.5" height="1.5" fill="#c4c4c4" />
<rect x="240.3" y="325.4" width="7.7" height="1.5" fill="#c4c4c4" />
<rect x="273.0" y="325.4" width="6.5" height="1.5" fill="#c4c4c4" />
<rect x="240.3" y="328.0" width="7.7" height="1.5" fill="#c4c4c4" />
<rect x="273.0" y="328.0" width="6.5" height="1.5" fill="#c4c4c4" />
<rect x="240.3" y="330.6" width="7.7" height="1.5" fill="#c4c4c4" />
<rect x="273.0" y="330.6" width="6.5" height="1.5" fill="#c4c4c4" />
<rect x="240.3" y="333.3" width="7.7" height="1.5" fill="#c4c4c4" />
<rect x="273.0" y="333.3" width="6.5" height="1.5" fill="#c4c4c4" />
<rect x="240.3" y="335.9" width="7.7" height="1.5" fill="#c4c4c4" />
<rect x="273.0" y="335.9" width="6.5" height="1.5" fill="#c4c4c4" />
<rect x="240.3" y="338.6" width="7.7" height="1.5" fill="#c4c4c4" />
<rect x="273.0" y="338.6" width="6.5" height="1.5" fill="#c4c4c4" />
<rect x="240.3" y="341.2" width="7.7" height="1.5" fill="#c4c4c4" />
<rect x="273.0" y="341.2" width="6.5" height="1.5" fill="#c4c4c4" />
<rect x="248.0" y="300.0" width="25.0" height="44.0" fill="#4d4a4a" />
<rect x="247.5" y="344.0" width="26.0" height="1.5" fill="#888" />
<circle cx="251.5" cy="303.0" r="0.9" fill="#ddd" />
<circle cx="243.0" cy="297.5" r="2.0" fill="#222" />
<rect x="287.2" y="298.9" width="8.6" height="4.8" rx="1.5" fill="#e6dfda"/>
<ellipse cx="291.5" cy="301.3" rx="2.9" ry="2.1" fill="#b8948a"/>
<rect x="287.2" y="311.4" width="8.6" height="4.8" rx="1.5" fill="#e6dfda"/>
<ellipse cx="291.5" cy="313.8" rx="2.9" ry="2.1" fill="#b8948a"/>
<rect x="287.2" y="321.4" width="8.6" height="4.8" rx="1.5" fill="#e6dfda"/>
<ellipse cx="291.5" cy="323.8" rx="2.9" ry="2.1" fill="#b8948a"/>
<rect x="293.5" y="332.6" width="8.6" height="4.8" rx="1.5" fill="#e6dfda"/>
<ellipse cx="297.8" cy="335" rx="2.9" ry="2.1" fill="#b8948a"/>
<rect x="293.5" y="343.9" width="8.6" height="4.8" rx="1.5" fill="#d6d6d6"/>
<circle cx="297.8" cy="346.3" r="2.4" fill="#161616" />
<rect x="293.5" y="353.9" width="8.6" height="4.8" rx="1.5" fill="#d6d6d6"/>
<circle cx="297.8" cy="356.3" r="2.4" fill="#161616" />
<rect x="293.5" y="361.4" width="8.6" height="4.8" rx="1.5" fill="#e6dfda"/>
<ellipse cx="297.8" cy="363.8" rx="2.9" ry="2.1" fill="#b8948a"/>
<rect x="233.0" y="339.0" width="5.0" height="10.0" fill="#f0f0f0" stroke="#888" stroke-width="0.5"/>
<rect x="146.6" y="359.8" width="4.8" height="8.4" rx="1.5" fill="#e6dfda"/>
<ellipse cx="149" cy="364" rx="2.1" ry="2.9" fill="#b8948a"/>
<rect x="156.1" y="359.8" width="4.8" height="8.4" rx="1.5" fill="#d6d6d6"/>
<circle cx="158.5" cy="364.0" r="2.4" fill="#161616" />
<rect x="165.6" y="359.8" width="4.8" height="8.4" rx="1.5" fill="#e6dfda"/>
<ellipse cx="168" cy="364" rx="2.1" ry="2.9" fill="#b8948a"/>
<rect x="196.9" y="359.8" width="4.8" height="8.4" rx="1.5" fill="#e6dfda"/>
<ellipse cx="199.3" cy="364" rx="2.1" ry="2.9" fill="#b8948a"/>
<rect x="206.4" y="359.8" width="4.8" height="8.4" rx="1.5" fill="#d6d6d6"/>
<circle cx="208.8" cy="364.0" r="2.4" fill="#161616" />
<rect x="220.0" y="359.8" width="4.8" height="8.4" rx="1.5" fill="#d6d6d6"/>
<circle cx="222.4" cy="364.0" r="2.4" fill="#161616" />
<rect x="226.8" y="359.8" width="4.8" height="8.4" rx="1.5" fill="#e6dfda"/>
<ellipse cx="229.2" cy="364" rx="2.1" ry="2.9" fill="#b8948a"/>
<rect x="243.1" y="359.8" width="4.8" height="8.4" rx="1.5" fill="#d6d6d6"/>
<circle cx="245.5" cy="364.0" r="2.4" fill="#161616" />
<rect x="262.6" y="359.8" width="4.8" height="8.4" rx="1.5" fill="#d6d6d6"/>
<circle cx="265.0" cy="364.0" r="2.4" fill="#161616" />
<rect x="281.1" y="359.8" width="4.8" height="8.4" rx="1.5" fill="#e6dfda"/>
<ellipse cx="283.5" cy="364" rx="2.1" ry="2.9" fill="#b8948a"/>
<rect x="253.0" y="358.0" width="6.0" height="11.0" fill="#f5f5f5" stroke="#888" stroke-width="0.5"/>
<rect x="273.0" y="358.0" width="6.0" height="11.0" fill="#f5f5f5" stroke="#888" stroke-width="0.5"/>
<rect x="83.8" y="366.5" width="25.8" height="14.3" fill="#1e1e1e" />
<rect x="86.5" y="368.0" width="1.2" height="11.0" fill="#e8e8e8" />
<rect x="88.5" y="369.0" width="1.0" height="9.0" fill="#bdbdbd" />
<rect x="92.8" y="368.0" width="1.2" height="11.0" fill="#e8e8e8" />
<rect x="94.8" y="369.0" width="1.0" height="9.0" fill="#bdbdbd" />
<rect x="91.0" y="366.5" width="0.6" height="14.3" fill="#777" />
<rect x="99.1" y="368.0" width="1.2" height="11.0" fill="#e8e8e8" />
<rect x="101.1" y="369.0" width="1.0" height="9.0" fill="#bdbdbd" />
<rect x="97.3" y="366.5" width="0.6" height="14.3" fill="#777" />
<rect x="105.4" y="368.0" width="1.2" height="11.0" fill="#e8e8e8" />
<rect x="107.4" y="369.0" width="1.0" height="9.0" fill="#bdbdbd" />
<rect x="103.6" y="366.5" width="0.6" height="14.3" fill="#777" />
<rect x="180.0" y="374.0" width="53.0" height="7.0" fill="#262626" />
<text x="206.5" y="379.8" font-size="5.2" fill="#fff" font-weight="bold" text-anchor="middle">CLK DIO GND 3.3</text>
<rect x="75.9" y="385.0" width="4.6" height="8.2" fill="#f0eccc" stroke="#cfc9a0" stroke-width="0.5"/>
<rect x="84.8" y="385.0" width="4.6" height="8.2" fill="#f0eccc" stroke="#cfc9a0" stroke-width="0.5"/>
<rect x="93.6" y="385.0" width="4.6" height="8.2" fill="#f0eccc" stroke="#cfc9a0" stroke-width="0.5"/>
<rect x="102.5" y="385.0" width="4.6" height="8.2" fill="#f0eccc" stroke="#cfc9a0" stroke-width="0.5"/>
<rect x="64.5" y="392.0" width="53.0" height="29.0" fill="#fdfdfd" stroke="#c2c2c2" stroke-width="0.7"/>
<rect x="64.5" y="389.5" width="9.0" height="3.0" fill="#c8c8c8" />
<rect x="108.5" y="389.5" width="9.0" height="3.0" fill="#c8c8c8" />
<line x1="72.0" y1="395" x2="72.0" y2="410" stroke="#bdbdbd" stroke-width="0.8"/>
<line x1="105.2" y1="395" x2="105.2" y2="410" stroke="#bdbdbd" stroke-width="0.8"/>
<line x1="69.5" y1="418.7" x2="112.5" y2="418.7" stroke="#b0b0b0" stroke-width="1.2"/>
<rect x="67.5" y="418.0" width="4.0" height="4.0" fill="#888" />
<rect x="110.5" y="418.0" width="4.0" height="4.0" fill="#888" />
<rect x="192.4" y="385.0" width="4.6" height="8.2" fill="#f0eccc" stroke="#cfc9a0" stroke-width="0.5"/>
<rect x="201.3" y="385.0" width="4.6" height="8.2" fill="#f0eccc" stroke="#cfc9a0" stroke-width="0.5"/>
<rect x="210.1" y="385.0" width="4.6" height="8.2" fill="#f0eccc" stroke="#cfc9a0" stroke-width="0.5"/>
<rect x="219.0" y="385.0" width="4.6" height="8.2" fill="#f0eccc" stroke="#cfc9a0" stroke-width="0.5"/>
<rect x="181.0" y="392.0" width="54.0" height="29.0" fill="#fdfdfd" stroke="#c2c2c2" stroke-width="0.7"/>
<rect x="181.0" y="389.5" width="9.0" height="3.0" fill="#c8c8c8" />
<rect x="226.0" y="389.5" width="9.0" height="3.0" fill="#c8c8c8" />
<line x1="188.5" y1="395" x2="188.5" y2="410" stroke="#bdbdbd" stroke-width="0.8"/>
<line x1="222.7" y1="395" x2="222.7" y2="410" stroke="#bdbdbd" stroke-width="0.8"/>
<line x1="186" y1="418.7" x2="230" y2="418.7" stroke="#b0b0b0" stroke-width="1.2"/>
<rect x="184.0" y="418.0" width="4.0" height="4.0" fill="#888" />
<rect x="228.0" y="418.0" width="4.0" height="4.0" fill="#888" />
<rect x="126.0" y="386.0" width="18.5" height="29.0" fill="#1a1a1a" />
<rect x="133.0" y="393.0" width="4.0" height="16.0" fill="#e6e6e6" />
<rect x="130.0" y="416.0" width="11.0" height="5.0" fill="#f2f2f2" stroke="#666" stroke-width="0.5"/>
<circle cx="122.0" cy="388.0" r="2.0" fill="#222" />
<rect x="151" y="385" width="20" height="39" rx="3" fill="#f8f8f8" stroke="#555" stroke-width="0.9"/>
<rect x="152.5" y="386.5" width="17.0" height="6.5" fill="#1e1e1e" />
<text x="161.0" y="392.0" font-size="5" fill="#fff" font-weight="bold" text-anchor="middle">CAL 1</text>
<rect x="154.0" y="397.0" width="13.0" height="17.0" fill="#f0a060" />
<rect x="154.0" y="397.0" width="2.5" height="2.5" fill="#3030b0" />
<rect x="164.5" y="397.0" width="2.5" height="2.5" fill="#3030b0" />
<rect x="154.0" y="411.5" width="2.5" height="2.5" fill="#3030b0" />
<rect x="164.5" y="411.5" width="2.5" height="2.5" fill="#3030b0" />
<ellipse cx="160.5" cy="405.5" rx="5" ry="7.5" fill="#f018e8"/>
<rect x="156.5" y="414.5" width="8.0" height="7.5" fill="#e8e8e8" />
<rect x="243" y="385" width="20" height="39" rx="3" fill="#f8f8f8" stroke="#555" stroke-width="0.9"/>
<rect x="244.5" y="386.5" width="17.0" height="6.5" fill="#1e1e1e" />
<text x="253.0" y="392.0" font-size="5" fill="#fff" font-weight="bold" text-anchor="middle">CAL 2</text>
<rect x="246.5" y="396.5" width="13.0" height="17.0" fill="#f0a060" />
<rect x="246.5" y="396.5" width="2.5" height="2.5" fill="#3030b0" />
<rect x="257.0" y="396.5" width="2.5" height="2.5" fill="#3030b0" />
<rect x="246.5" y="411.0" width="2.5" height="2.5" fill="#3030b0" />
<rect x="257.0" y="411.0" width="2.5" height="2.5" fill="#3030b0" />
<ellipse cx="253" cy="405" rx="5" ry="7.5" fill="#f018e8"/>
<rect x="249.0" y="414.0" width="8.0" height="8.0" fill="#e8e8e8" />
<rect x="268.7" y="383.4" width="4.7" height="8.2" fill="#ececea" stroke="#b8b8b8" stroke-width="0.5"/>
<rect x="268.7" y="405.5" width="4.7" height="9.4" fill="#ececea" stroke="#b8b8b8" stroke-width="0.5"/>
<rect x="306.6" y="383.4" width="5.3" height="8.2" fill="#ececea" stroke="#b8b8b8" stroke-width="0.5"/>
<rect x="306.6" y="405.5" width="5.3" height="9.4" fill="#ececea" stroke="#b8b8b8" stroke-width="0.5"/>
<rect x="273.4" y="381.0" width="33.2" height="41.4" fill="#fbfbfa" stroke="#9a9a9a" stroke-width="0.8"/>
<path d="M282,387.5 L298,387.5 L298,390 L294,390 L293,398.5 L287,398.5 L286,390 L282,390 Z" fill="#5a5a5a"/>
<rect x="277.5" y="400.0" width="1.8" height="15.5" fill="#4a4a4a" />
<rect x="280.4" y="400.0" width="1.8" height="15.5" fill="#4a4a4a" />
<rect x="298.5" y="400.0" width="1.8" height="15.5" fill="#4a4a4a" />
<rect x="301.0" y="400.0" width="1.8" height="15.5" fill="#4a4a4a" />
<rect x="285.5" y="399.0" width="1.2" height="17.0" fill="#c8c8c8" />
<rect x="292.8" y="399.0" width="1.2" height="17.0" fill="#c8c8c8" />
</g>
<g id="red">
<rect x="461.6" y="49" width="219.5" height="63" rx="6" fill="#f7502a"/>
<rect x="393.1" y="53.6" width="87.5" height="54.7" fill="#fefefe" stroke="#9a9a9a" stroke-width="0.9"/>
<rect x="417.3" y="61.4" width="9.6" height="6.3" fill="#f8f018" />
<rect x="417.3" y="67.7" width="9.6" height="5.1" fill="#b8b8b8" />
<rect x="417.3" y="89.5" width="9.6" height="4.2" fill="#b8b8b8" />
<rect x="417.3" y="93.8" width="9.6" height="6.8" fill="#f8f018" />
<rect x="480.6" y="53.6" width="2.9" height="54.7" fill="#3a3a3a" />
<rect x="481.0" y="64.2" width="10.0" height="2.2" fill="#f0d020" />
<circle cx="491.5" cy="65.3" r="2.6" fill="#e8c828" />
<circle cx="491.5" cy="65.3" r="1.1" fill="#4a3010" />
<rect x="481.0" y="75.2" width="10.0" height="2.2" fill="#f0d020" />
<circle cx="491.5" cy="76.2" r="2.6" fill="#e8c828" />
<circle cx="491.5" cy="76.2" r="1.1" fill="#4a3010" />
<rect x="481.0" y="84.9" width="10.0" height="2.2" fill="#f0d020" />
<circle cx="491.5" cy="86.0" r="2.6" fill="#e8c828" />
<circle cx="491.5" cy="86.0" r="1.1" fill="#4a3010" />
<rect x="481.0" y="95.2" width="10.0" height="2.2" fill="#f0d020" />
<circle cx="491.5" cy="96.2" r="2.6" fill="#e8c828" />
<circle cx="491.5" cy="96.2" r="1.1" fill="#4a3010" />
<circle cx="484.5" cy="55.0" r="2.3" fill="#3a2a20" />
<circle cx="484.5" cy="106.5" r="2.3" fill="#3a2a20" />
<rect x="541.8" y="60.5" width="1.3" height="6.5" fill="#f8d8b0" />
<rect x="541.8" y="97.2" width="1.3" height="6.5" fill="#f8d8b0" />
<rect x="544.1" y="60.5" width="1.3" height="6.5" fill="#f8d8b0" />
<rect x="544.1" y="97.2" width="1.3" height="6.5" fill="#f8d8b0" />
<rect x="546.5" y="60.5" width="1.3" height="6.5" fill="#f8d8b0" />
<rect x="546.5" y="97.2" width="1.3" height="6.5" fill="#f8d8b0" />
<rect x="548.8" y="60.5" width="1.3" height="6.5" fill="#f8d8b0" />
<rect x="548.8" y="97.2" width="1.3" height="6.5" fill="#f8d8b0" />
<rect x="551.2" y="60.5" width="1.3" height="6.5" fill="#f8d8b0" />
<rect x="551.2" y="97.2" width="1.3" height="6.5" fill="#f8d8b0" />
<rect x="553.5" y="60.5" width="1.3" height="6.5" fill="#f8d8b0" />
<rect x="553.5" y="97.2" width="1.3" height="6.5" fill="#f8d8b0" />
<rect x="555.9" y="60.5" width="1.3" height="6.5" fill="#f8d8b0" />
<rect x="555.9" y="97.2" width="1.3" height="6.5" fill="#f8d8b0" />
<rect x="558.2" y="60.5" width="1.3" height="6.5" fill="#f8d8b0" />
<rect x="558.2" y="97.2" width="1.3" height="6.5" fill="#f8d8b0" />
<rect x="560.6" y="60.5" width="1.3" height="6.5" fill="#f8d8b0" />
<rect x="560.6" y="97.2" width="1.3" height="6.5" fill="#f8d8b0" />
<rect x="562.9" y="60.5" width="1.3" height="6.5" fill="#f8d8b0" />
<rect x="562.9" y="97.2" width="1.3" height="6.5" fill="#f8d8b0" />
<rect x="565.3" y="60.5" width="1.3" height="6.5" fill="#f8d8b0" />
<rect x="565.3" y="97.2" width="1.3" height="6.5" fill="#f8d8b0" />
<rect x="567.6" y="60.5" width="1.3" height="6.5" fill="#f8d8b0" />
<rect x="567.6" y="97.2" width="1.3" height="6.5" fill="#f8d8b0" />
<rect x="532.5" y="68.6" width="7.3" height="1.3" fill="#f8d8b0" />
<rect x="570.0" y="68.6" width="7.0" height="1.3" fill="#f8d8b0" />
<rect x="532.5" y="70.9" width="7.3" height="1.3" fill="#f8d8b0" />
<rect x="570.0" y="70.9" width="7.0" height="1.3" fill="#f8d8b0" />
<rect x="532.5" y="73.3" width="7.3" height="1.3" fill="#f8d8b0" />
<rect x="570.0" y="73.3" width="7.0" height="1.3" fill="#f8d8b0" />
<rect x="532.5" y="75.6" width="7.3" height="1.3" fill="#f8d8b0" />
<rect x="570.0" y="75.6" width="7.0" height="1.3" fill="#f8d8b0" />
<rect x="532.5" y="78.0" width="7.3" height="1.3" fill="#f8d8b0" />
<rect x="570.0" y="78.0" width="7.0" height="1.3" fill="#f8d8b0" />
<rect x="532.5" y="80.3" width="7.3" height="1.3" fill="#f8d8b0" />
<rect x="570.0" y="80.3" width="7.0" height="1.3" fill="#f8d8b0" />
<rect x="532.5" y="82.7" width="7.3" height="1.3" fill="#f8d8b0" />
<rect x="570.0" y="82.7" width="7.0" height="1.3" fill="#f8d8b0" />
<rect x="532.5" y="85.0" width="7.3" height="1.3" fill="#f8d8b0" />
<rect x="570.0" y="85.0" width="7.0" height="1.3" fill="#f8d8b0" />
<rect x="532.5" y="87.4" width="7.3" height="1.3" fill="#f8d8b0" />
<rect x="570.0" y="87.4" width="7.0" height="1.3" fill="#f8d8b0" />
<rect x="532.5" y="89.8" width="7.3" height="1.3" fill="#f8d8b0" />
<rect x="570.0" y="89.8" width="7.0" height="1.3" fill="#f8d8b0" />
<rect x="532.5" y="92.1" width="7.3" height="1.3" fill="#f8d8b0" />
<rect x="570.0" y="92.1" width="7.0" height="1.3" fill="#f8d8b0" />
<rect x="532.5" y="94.4" width="7.3" height="1.3" fill="#f8d8b0" />
<rect x="570.0" y="94.4" width="7.0" height="1.3" fill="#f8d8b0" />
<rect x="539.8" y="67.0" width="30.2" height="30.2" fill="#5a5a5a" />
<circle cx="542.5" cy="70.0" r="0.8" fill="#ddd" />
<rect x="511.3" y="67.0" width="14.7" height="11.4" fill="#fbfbfb" stroke="#d88" stroke-width="0.5"/>
<rect x="499.0" y="55.2" width="6.0" height="3.6" fill="#f6d08a" />
<rect x="501.0" y="55.2" width="2.0" height="3.6" fill="#3a2a20" />
<rect x="507.0" y="55.2" width="6.0" height="3.6" fill="#f6d08a" />
<rect x="509.0" y="55.2" width="2.0" height="3.6" fill="#3a2a20" />
<rect x="515.0" y="55.2" width="6.0" height="3.6" fill="#f6d08a" />
<rect x="517.0" y="55.2" width="2.0" height="3.6" fill="#3a2a20" />
<rect x="525.0" y="55.2" width="6.0" height="3.6" fill="#f6d08a" />
<rect x="527.0" y="55.2" width="2.0" height="3.6" fill="#3a2a20" />
<rect x="505.0" y="61.2" width="6.0" height="3.6" fill="#f6d08a" />
<rect x="507.0" y="61.2" width="2.0" height="3.6" fill="#3a2a20" />
<rect x="513.0" y="61.2" width="6.0" height="3.6" fill="#f6d08a" />
<rect x="515.0" y="61.2" width="2.0" height="3.6" fill="#3a2a20" />
<rect x="498.0" y="69.2" width="6.0" height="3.6" fill="#f6d08a" />
<rect x="500.0" y="69.2" width="2.0" height="3.6" fill="#3a2a20" />
<rect x="498.0" y="82.2" width="6.0" height="3.6" fill="#f6d08a" />
<rect x="500.0" y="82.2" width="2.0" height="3.6" fill="#3a2a20" />
<rect x="506.0" y="82.2" width="6.0" height="3.6" fill="#f6d08a" />
<rect x="508.0" y="82.2" width="2.0" height="3.6" fill="#3a2a20" />
<rect x="516.0" y="82.2" width="6.0" height="3.6" fill="#f6d08a" />
<rect x="518.0" y="82.2" width="2.0" height="3.6" fill="#3a2a20" />
<rect x="500.0" y="87.2" width="6.0" height="3.6" fill="#f6d08a" />
<rect x="502.0" y="87.2" width="2.0" height="3.6" fill="#3a2a20" />
<rect x="510.0" y="87.2" width="6.0" height="3.6" fill="#f6d08a" />
<rect x="512.0" y="87.2" width="2.0" height="3.6" fill="#3a2a20" />
<rect x="498.0" y="93.2" width="6.0" height="3.6" fill="#f6d08a" />
<rect x="500.0" y="93.2" width="2.0" height="3.6" fill="#3a2a20" />
<rect x="509.0" y="93.2" width="6.0" height="3.6" fill="#f6d08a" />
<rect x="511.0" y="93.2" width="2.0" height="3.6" fill="#3a2a20" />
<rect x="500.0" y="99.2" width="6.0" height="3.6" fill="#f6d08a" />
<rect x="502.0" y="99.2" width="2.0" height="3.6" fill="#3a2a20" />
<rect x="510.0" y="99.2" width="6.0" height="3.6" fill="#f6d08a" />
<rect x="512.0" y="99.2" width="2.0" height="3.6" fill="#3a2a20" />
<rect x="502.0" y="104.2" width="6.0" height="3.6" fill="#f6d08a" />
<rect x="504.0" y="104.2" width="2.0" height="3.6" fill="#3a2a20" />
<rect x="527.0" y="104.2" width="6.0" height="3.6" fill="#f6d08a" />
<rect x="529.0" y="104.2" width="2.0" height="3.6" fill="#3a2a20" />
<rect x="542.0" y="105.2" width="6.0" height="3.6" fill="#f6d08a" />
<rect x="544.0" y="105.2" width="2.0" height="3.6" fill="#3a2a20" />
<rect x="552.0" y="105.2" width="6.0" height="3.6" fill="#f6d08a" />
<rect x="554.0" y="105.2" width="2.0" height="3.6" fill="#3a2a20" />
<rect x="562.0" y="105.2" width="6.0" height="3.6" fill="#f6d08a" />
<rect x="564.0" y="105.2" width="2.0" height="3.6" fill="#3a2a20" />
<rect x="535.0" y="55.2" width="6.0" height="3.6" fill="#f6d08a" />
<rect x="537.0" y="55.2" width="2.0" height="3.6" fill="#3a2a20" />
<rect x="550.0" y="53.2" width="6.0" height="3.6" fill="#f6d08a" />
<rect x="552.0" y="53.2" width="2.0" height="3.6" fill="#3a2a20" />
<rect x="560.0" y="53.2" width="6.0" height="3.6" fill="#f6d08a" />
<rect x="562.0" y="53.2" width="2.0" height="3.6" fill="#3a2a20" />
<rect x="574.0" y="54.2" width="6.0" height="3.6" fill="#f6d08a" />
<rect x="576.0" y="54.2" width="2.0" height="3.6" fill="#3a2a20" />
<rect x="578.0" y="62.2" width="6.0" height="3.6" fill="#f6d08a" />
<rect x="580.0" y="62.2" width="2.0" height="3.6" fill="#3a2a20" />
<rect x="578.0" y="74.2" width="6.0" height="3.6" fill="#f6d08a" />
<rect x="580.0" y="74.2" width="2.0" height="3.6" fill="#3a2a20" />
<rect x="580.0" y="84.2" width="6.0" height="3.6" fill="#f6d08a" />
<rect x="582.0" y="84.2" width="2.0" height="3.6" fill="#3a2a20" />
<rect x="579.0" y="95.2" width="6.0" height="3.6" fill="#f6d08a" />
<rect x="581.0" y="95.2" width="2.0" height="3.6" fill="#3a2a20" />
<rect x="594.0" y="92.2" width="6.0" height="3.6" fill="#f6d08a" />
<rect x="596.0" y="92.2" width="2.0" height="3.6" fill="#3a2a20" />
<rect x="602.0" y="92.2" width="6.0" height="3.6" fill="#f6d08a" />
<rect x="604.0" y="92.2" width="2.0" height="3.6" fill="#3a2a20" />
<rect x="608.0" y="68.2" width="6.0" height="3.6" fill="#f6d08a" />
<rect x="610.0" y="68.2" width="2.0" height="3.6" fill="#3a2a20" />
<rect x="608.0" y="78.2" width="6.0" height="3.6" fill="#f6d08a" />
<rect x="610.0" y="78.2" width="2.0" height="3.6" fill="#3a2a20" />
<rect x="608.0" y="86.2" width="6.0" height="3.6" fill="#f6d08a" />
<rect x="610.0" y="86.2" width="2.0" height="3.6" fill="#3a2a20" />
<rect x="586.0" y="51.5" width="18.0" height="13.0" fill="#f09060" />
<rect x="586.0" y="51.5" width="2.5" height="2.5" fill="#30308a" />
<rect x="601.5" y="51.5" width="2.5" height="2.5" fill="#30308a" />
<rect x="586.0" y="62.0" width="2.5" height="2.5" fill="#30308a" />
<rect x="601.5" y="62.0" width="2.5" height="2.5" fill="#30308a" />
<ellipse cx="595.5" cy="58" rx="7" ry="5.3" fill="#ee1ee6"/>
<rect x="584.5" y="71.0" width="4.5" height="2.0" fill="#f6d08a" />
<rect x="604.5" y="71.0" width="4.5" height="2.0" fill="#f6d08a" />
<rect x="584.5" y="76.5" width="4.5" height="2.0" fill="#f6d08a" />
<rect x="604.5" y="76.5" width="4.5" height="2.0" fill="#f6d08a" />
<rect x="584.5" y="82.0" width="4.5" height="2.0" fill="#f6d08a" />
<rect x="604.5" y="82.0" width="4.5" height="2.0" fill="#f6d08a" />
<rect x="584.5" y="87.5" width="4.5" height="2.0" fill="#f6d08a" />
<rect x="604.5" y="87.5" width="4.5" height="2.0" fill="#f6d08a" />
<rect x="589.0" y="69.5" width="15.5" height="20.0" fill="#555" />
<rect x="590.0" y="99.5" width="24.5" height="12.5" fill="#2e2e2e" />
<rect x="595.0" y="103.5" width="5.0" height="4.5" fill="#555" />
<rect x="605.0" y="103.5" width="5.0" height="4.5" fill="#555" />
<rect x="617.5" y="57.2" width="12.9" height="44.8" fill="#575252" />
<rect x="622.0" y="59.4" width="6.5" height="5.2" fill="#3a3535" />
<rect x="624.8" y="60.7" width="2.8" height="2.6" fill="#efe6d0" />
<rect x="622.0" y="71.6" width="6.5" height="5.2" fill="#3a3535" />
<rect x="624.8" y="72.9" width="2.8" height="2.6" fill="#efe6d0" />
<rect x="622.0" y="83.8" width="6.5" height="5.2" fill="#3a3535" />
<rect x="624.8" y="85.1" width="2.8" height="2.6" fill="#efe6d0" />
<rect x="622.0" y="96.1" width="6.5" height="5.2" fill="#3a3535" />
<rect x="624.8" y="97.4" width="2.8" height="2.6" fill="#efe6d0" />
<rect x="636.5" y="56.5" width="6.8" height="48.3" fill="#0f3a20" />
<rect x="643.3" y="52.5" width="30.6" height="53.6" fill="#a0f2c6" />
<path d="M646,52.5 L650,52.5 L648,54.5 Z" fill="#1a3a20"/>
<path d="M665,52.5 L669,52.5 L667,54.5 Z" fill="#1a3a20"/>
<path d="M646,106.1 L650,106.1 L648,104.1 Z" fill="#1a3a20"/>
<path d="M665,106.1 L669,106.1 L667,104.1 Z" fill="#1a3a20"/>
<circle cx="657.6" cy="62.7" r="6.3" fill="#fbfbfb" stroke="#2f6a45" stroke-width="0.8"/>
<circle cx="656.5" cy="61.2" r="0.8" fill="#c0a0b0" />
<circle cx="658.5" cy="64.2" r="0.8" fill="#c0a0b0" />
<circle cx="657.6" cy="80.3" r="6.3" fill="#fbfbfb" stroke="#2f6a45" stroke-width="0.8"/>
<circle cx="656.5" cy="78.8" r="0.8" fill="#c0a0b0" />
<circle cx="658.5" cy="81.8" r="0.8" fill="#c0a0b0" />
<circle cx="657.6" cy="97.3" r="6.3" fill="#fbfbfb" stroke="#2f6a45" stroke-width="0.8"/>
<circle cx="656.5" cy="95.8" r="0.8" fill="#c0a0b0" />
<circle cx="658.5" cy="98.8" r="0.8" fill="#c0a0b0" />
<rect x="674.3" y="56.0" width="5.9" height="51.0" fill="#c83420" />
<text x="0.0" y="0.0" font-size="4.6" fill="#3a1008" font-weight="bold" transform="translate(675.5,57) rotate(90)" textLength="49">INPUT  SIGNAL  GND</text>
</g>
<g id="green">
<path d="M476,160.5 L640,160.5 L645,206 L667.8,206 L667.8,227.5 L665.5,229.5 L467,231 L463.5,228 L463.5,212 L476,205 Z" fill="#24402c"/>
<path d="M463.5,228 L467,231 L665.5,229.5 L667.8,227.5 Z" fill="#172a1c"/>
<path d="M632,206.3 L667.8,206.3" stroke="#5d7a4e" stroke-width="0.8"/>
<rect x="528.6" y="169.5" width="39.4" height="37.5" fill="#2e4a36" />
<rect x="537.0" y="199.5" width="1.4" height="7.5" fill="#b8beb0" />
<rect x="537.0" y="169.0" width="1.4" height="3.3" fill="#8a9080" />
<rect x="540.1" y="199.5" width="1.4" height="7.5" fill="#b8beb0" />
<rect x="540.1" y="169.0" width="1.4" height="3.3" fill="#8a9080" />
<rect x="543.2" y="199.5" width="1.4" height="7.5" fill="#b8beb0" />
<rect x="543.2" y="169.0" width="1.4" height="3.3" fill="#8a9080" />
<rect x="546.3" y="199.5" width="1.4" height="7.5" fill="#b8beb0" />
<rect x="546.3" y="169.0" width="1.4" height="3.3" fill="#8a9080" />
<rect x="549.4" y="199.5" width="1.4" height="7.5" fill="#b8beb0" />
<rect x="549.4" y="169.0" width="1.4" height="3.3" fill="#8a9080" />
<rect x="552.5" y="199.5" width="1.4" height="7.5" fill="#b8beb0" />
<rect x="552.5" y="169.0" width="1.4" height="3.3" fill="#8a9080" />
<rect x="555.6" y="199.5" width="1.4" height="7.5" fill="#b8beb0" />
<rect x="555.6" y="169.0" width="1.4" height="3.3" fill="#8a9080" />
<rect x="558.7" y="199.5" width="1.4" height="7.5" fill="#b8beb0" />
<rect x="558.7" y="169.0" width="1.4" height="3.3" fill="#8a9080" />
<rect x="528.6" y="174.5" width="5.8" height="1.3" fill="#b8beb0" />
<rect x="562.4" y="174.5" width="5.1" height="1.3" fill="#b8beb0" />
<rect x="528.6" y="177.6" width="5.8" height="1.3" fill="#b8beb0" />
<rect x="562.4" y="177.6" width="5.1" height="1.3" fill="#b8beb0" />
<rect x="528.6" y="180.7" width="5.8" height="1.3" fill="#b8beb0" />
<rect x="562.4" y="180.7" width="5.1" height="1.3" fill="#b8beb0" />
<rect x="528.6" y="183.8" width="5.8" height="1.3" fill="#b8beb0" />
<rect x="562.4" y="183.8" width="5.1" height="1.3" fill="#b8beb0" />
<rect x="528.6" y="186.9" width="5.8" height="1.3" fill="#b8beb0" />
<rect x="562.4" y="186.9" width="5.1" height="1.3" fill="#b8beb0" />
<rect x="528.6" y="190.0" width="5.8" height="1.3" fill="#b8beb0" />
<rect x="562.4" y="190.0" width="5.1" height="1.3" fill="#b8beb0" />
<rect x="528.6" y="193.1" width="5.8" height="1.3" fill="#b8beb0" />
<rect x="562.4" y="193.1" width="5.1" height="1.3" fill="#b8beb0" />
<rect x="528.6" y="196.2" width="5.8" height="1.3" fill="#b8beb0" />
<rect x="562.4" y="196.2" width="5.1" height="1.3" fill="#b8beb0" />
<rect x="534.4" y="172.3" width="28.0" height="27.2" fill="#161616" />
<circle cx="537.0" cy="175.0" r="0.7" fill="#ccc" />
<rect x="507.0" y="174.8" width="14.0" height="7.4" fill="#f7f7f7" stroke="#888" stroke-width="0.5"/>
<rect x="500.0" y="174.0" width="5.0" height="11.0" fill="#c8c8c0" />
<rect x="497.5" y="188.0" width="7.0" height="4.0" fill="#c2c6b8" />
<rect x="499.7" y="188.0" width="2.6" height="4.0" fill="#2a2a2a" />
<rect x="510.5" y="188.0" width="7.0" height="4.0" fill="#c2c6b8" />
<rect x="512.7" y="188.0" width="2.6" height="4.0" fill="#2a2a2a" />
<rect x="497.5" y="194.0" width="7.0" height="4.0" fill="#c2c6b8" />
<rect x="499.7" y="194.0" width="2.6" height="4.0" fill="#2a2a2a" />
<rect x="510.5" y="194.0" width="7.0" height="4.0" fill="#c2c6b8" />
<rect x="512.7" y="194.0" width="2.6" height="4.0" fill="#2a2a2a" />
<rect x="497.5" y="201.0" width="7.0" height="4.0" fill="#c2c6b8" />
<rect x="499.7" y="201.0" width="2.6" height="4.0" fill="#2a2a2a" />
<rect x="510.5" y="201.0" width="7.0" height="4.0" fill="#c2c6b8" />
<rect x="512.7" y="201.0" width="2.6" height="4.0" fill="#2a2a2a" />
<rect x="490.5" y="163.0" width="7.0" height="4.0" fill="#c2c6b8" />
<rect x="492.7" y="163.0" width="2.6" height="4.0" fill="#2a2a2a" />
<rect x="502.5" y="163.0" width="7.0" height="4.0" fill="#c2c6b8" />
<rect x="504.7" y="163.0" width="2.6" height="4.0" fill="#2a2a2a" />
<rect x="516.5" y="163.0" width="7.0" height="4.0" fill="#c2c6b8" />
<rect x="518.7" y="163.0" width="2.6" height="4.0" fill="#2a2a2a" />
<rect x="525.5" y="162.0" width="7.0" height="4.0" fill="#c2c6b8" />
<rect x="527.7" y="162.0" width="2.6" height="4.0" fill="#2a2a2a" />
<rect x="540.5" y="162.0" width="7.0" height="4.0" fill="#c2c6b8" />
<rect x="542.7" y="162.0" width="2.6" height="4.0" fill="#2a2a2a" />
<rect x="554.5" y="163.0" width="7.0" height="4.0" fill="#c2c6b8" />
<rect x="556.7" y="163.0" width="2.6" height="4.0" fill="#2a2a2a" />
<rect x="508.5" y="168.0" width="7.0" height="4.0" fill="#c2c6b8" />
<rect x="510.7" y="168.0" width="2.6" height="4.0" fill="#2a2a2a" />
<rect x="522.5" y="168.0" width="7.0" height="4.0" fill="#c2c6b8" />
<rect x="524.7" y="168.0" width="2.6" height="4.0" fill="#2a2a2a" />
<rect x="573.0" y="178.0" width="7.0" height="1.6" fill="#d8dcd0" />
<rect x="598.7" y="178.0" width="5.3" height="1.6" fill="#c0c4b8" />
<rect x="573.0" y="182.6" width="7.0" height="1.6" fill="#d8dcd0" />
<rect x="598.7" y="182.6" width="5.3" height="1.6" fill="#c0c4b8" />
<rect x="573.0" y="187.2" width="7.0" height="1.6" fill="#d8dcd0" />
<rect x="598.7" y="187.2" width="5.3" height="1.6" fill="#c0c4b8" />
<rect x="573.0" y="191.8" width="7.0" height="1.6" fill="#d8dcd0" />
<rect x="598.7" y="191.8" width="5.3" height="1.6" fill="#c0c4b8" />
<rect x="580.0" y="176.0" width="18.7" height="19.0" fill="#151515" />
<rect x="603.7" y="168.7" width="22.5" height="28.8" fill="#0e0e0e" />
<rect x="611.0" y="174.0" width="3.0" height="18.0" fill="#d8d8d8" />
<text x="603.0" y="166.0" font-size="4.5" fill="#cfd4c8" font-weight="bold" >120R</text>
<rect x="585.0" y="167.0" width="4.0" height="6.0" fill="#c2c6b8" />
<rect x="585.0" y="169.0" width="4.0" height="2.0" fill="#2a2a2a" />
<rect x="593.0" y="167.0" width="4.0" height="6.0" fill="#c2c6b8" />
<rect x="593.0" y="169.0" width="4.0" height="2.0" fill="#2a2a2a" />
<rect x="576.0" y="200.0" width="4.0" height="6.0" fill="#c2c6b8" />
<rect x="576.0" y="202.0" width="4.0" height="2.0" fill="#2a2a2a" />
<rect x="586.0" y="200.0" width="4.0" height="6.0" fill="#c2c6b8" />
<rect x="586.0" y="202.0" width="4.0" height="2.0" fill="#2a2a2a" />
<rect x="595.0" y="200.0" width="4.0" height="6.0" fill="#c2c6b8" />
<rect x="595.0" y="202.0" width="4.0" height="2.0" fill="#2a2a2a" />
<rect x="490.6" y="208.6" width="33.4" height="4.1" fill="#a3aa98" />
<rect x="526.0" y="208.6" width="29.8" height="4.1" fill="#a3aa98" />
<rect x="489.0" y="211.5" width="28.0" height="16.3" fill="#1c1c1c" />
<rect x="498.0" y="218.0" width="13.0" height="3.0" fill="#e4e4e4" />
<rect x="561.0" y="211.5" width="30.0" height="16.3" fill="#1c1c1c" />
<rect x="570.0" y="218.0" width="15.0" height="3.0" fill="#e4e4e4" />
<rect x="628.7" y="211.5" width="38.8" height="16.3" fill="#1c1c1c" />
<rect x="637.7" y="218.0" width="23.8" height="3.0" fill="#e4e4e4" />
<rect x="628.7" y="211.5" width="8.3" height="16.3" fill="#060606" />
<rect x="531.9" y="214.4" width="28.1" height="14.0" fill="none" stroke="#cfd4c8" stroke-width="0.7"/>
<rect x="536.0" y="216.0" width="4.0" height="4.0" fill="#d0d0c8" />
<rect x="537.0" y="217.0" width="2.0" height="2.0" fill="#111" />
<rect x="536.0" y="222.0" width="4.0" height="4.0" fill="#d0d0c8" />
<rect x="537.0" y="223.0" width="2.0" height="2.0" fill="#111" />
<rect x="543.0" y="216.0" width="4.0" height="4.0" fill="#d0d0c8" />
<rect x="544.0" y="217.0" width="2.0" height="2.0" fill="#111" />
<rect x="543.0" y="222.0" width="4.0" height="4.0" fill="#d0d0c8" />
<rect x="544.0" y="223.0" width="2.0" height="2.0" fill="#111" />
<rect x="550.0" y="216.0" width="4.0" height="4.0" fill="#d0d0c8" />
<rect x="551.0" y="217.0" width="2.0" height="2.0" fill="#111" />
<rect x="550.0" y="222.0" width="4.0" height="4.0" fill="#d0d0c8" />
<rect x="551.0" y="223.0" width="2.0" height="2.0" fill="#111" />
<rect x="465.5" y="215.5" width="5.0" height="5.0" fill="#c6c8bc" />
<rect x="466.8" y="216.8" width="2.4" height="2.4" fill="#111" />
<rect x="465.5" y="222.5" width="5.0" height="5.0" fill="#c6c8bc" />
<rect x="466.8" y="223.8" width="2.4" height="2.4" fill="#111" />
<rect x="473.5" y="215.5" width="5.0" height="5.0" fill="#c6c8bc" />
<rect x="474.8" y="216.8" width="2.4" height="2.4" fill="#111" />
<rect x="473.5" y="222.5" width="5.0" height="5.0" fill="#c6c8bc" />
<rect x="474.8" y="223.8" width="2.4" height="2.4" fill="#111" />
<rect x="596.5" y="215.5" width="5.0" height="5.0" fill="#c6c8bc" />
<rect x="597.8" y="216.8" width="2.4" height="2.4" fill="#111" />
<rect x="603.5" y="215.5" width="5.0" height="5.0" fill="#c6c8bc" />
<rect x="604.8" y="216.8" width="2.4" height="2.4" fill="#111" />
<rect x="596.5" y="222.5" width="5.0" height="5.0" fill="#c6c8bc" />
<rect x="597.8" y="223.8" width="2.4" height="2.4" fill="#111" />
<rect x="603.5" y="222.5" width="5.0" height="5.0" fill="#c6c8bc" />
<rect x="604.8" y="223.8" width="2.4" height="2.4" fill="#111" />
<rect x="517.5" y="215.5" width="5.0" height="5.0" fill="#c6c8bc" />
<rect x="518.8" y="216.8" width="2.4" height="2.4" fill="#111" />
<ellipse cx="522" cy="222.6" rx="2.6" ry="4" fill="#c8a860" stroke="#7a6a30" stroke-width="0.5"/>
<ellipse cx="556.6" cy="222.6" rx="2.6" ry="4" fill="#c8a860" stroke="#7a6a30" stroke-width="0.5"/>
<ellipse cx="615" cy="202.5" rx="2.6" ry="4" fill="#c8a860" stroke="#7a6a30" stroke-width="0.5"/>
<ellipse cx="485" cy="224" rx="2.6" ry="4" fill="#c8a860" stroke="#7a6a30" stroke-width="0.5"/>
<path d="M396.4,156 L480.1,156 L475.7,204.6 L383.7,204.6 Z" fill="url(#usbw)"/>
<path d="M383.7,204.6 L475.7,204.6 L474,210.5 L386,210.5 Z" fill="url(#usbs)"/>
<path d="M480.1,156 L483,158 L479,210 L475.7,204.6 Z" fill="#9a9a9a"/>
<path d="M417.2,162 L427.5,162 L427,165.7 L416.7,165.7 Z" fill="#a8a8a8"/>
<path d="M416.7,165.7 L427,165.7 L426.4,172.4 L416.1,172.4 Z" fill="#f4ee10"/>
<path d="M412,185.9 L422.6,185.9 L422.3,189.6 L411.7,189.6 Z" fill="#f4ee10"/>
<path d="M411.7,189.6 L422.3,189.6 L422,193.3 L411.4,193.3 Z" fill="#a8a8a8"/>
<path d="M411.4,193.3 L422,193.3 L421.6,197.8 L411,197.8 Z" fill="#f4ee10"/>
<rect x="479.0" y="172.0" width="8.0" height="2.0" fill="#e8d020" />
<circle cx="489.3" cy="173.0" r="2.4" fill="#c8a830" />
<circle cx="489.3" cy="173.0" r="1.0" fill="#222" />
<rect x="479.0" y="182.0" width="8.0" height="2.0" fill="#e8d020" />
<circle cx="489.3" cy="183.0" r="2.4" fill="#c8a830" />
<circle cx="489.3" cy="183.0" r="1.0" fill="#222" />
<rect x="479.0" y="189.5" width="8.0" height="2.0" fill="#e8d020" />
<circle cx="489.3" cy="190.5" r="2.4" fill="#c8a830" />
<circle cx="489.3" cy="190.5" r="1.0" fill="#222" />
<rect x="479.0" y="199.0" width="8.0" height="2.0" fill="#e8d020" />
<circle cx="489.3" cy="200.0" r="2.4" fill="#c8a830" />
<circle cx="489.3" cy="200.0" r="1.0" fill="#222" />
<ellipse cx="480" cy="209" rx="4" ry="3" fill="#c8a860"/>
<path d="M627.5,162 L645.5,144 L655,193 L635,206 Z" fill="#16301c"/>
<path d="M655,193 L685,192 L681,199 L635,206 Z" fill="#214d2c"/>
<path d="M645.5,144 L673.5,144 L685,192 L655,193 Z" fill="#76d896"/>
<circle cx="662.0" cy="152.3" r="6.8" fill="#f7f7f7" stroke="#999" stroke-width="0.5"/>
<path d="M658,150.8 L666,153.8" stroke="#444" stroke-width="1.3"/>
<circle cx="665.3" cy="167.0" r="6.8" fill="#f7f7f7" stroke="#999" stroke-width="0.5"/>
<path d="M661.3,165.5 L669.3,168.5" stroke="#444" stroke-width="1.3"/>
<circle cx="669.4" cy="182.8" r="6.8" fill="#f7f7f7" stroke="#999" stroke-width="0.5"/>
<path d="M665.4,181.3 L673.4,184.3" stroke="#444" stroke-width="1.3"/>
</g>
<g id="orange">
<rect x="386.8" y="280" width="294.3" height="162.2" rx="12" fill="#f54c22"/>
<circle cx="401.8" cy="295.1" r="12.2" fill="#f8f0a6" stroke="#e0cf70" stroke-width="0.6"/>
<circle cx="401.8" cy="295.1" r="5.8" fill="#111" />
<circle cx="403.1" cy="295.1" r="4.6" fill="#c4c4cc" />
<circle cx="411.1" cy="295.1" r="0.9" fill="#7a5a10" />
<circle cx="408.4" cy="301.7" r="0.9" fill="#7a5a10" />
<circle cx="401.8" cy="304.4" r="0.9" fill="#7a5a10" />
<circle cx="395.2" cy="301.7" r="0.9" fill="#7a5a10" />
<circle cx="392.5" cy="295.1" r="0.9" fill="#7a5a10" />
<circle cx="395.2" cy="288.5" r="0.9" fill="#7a5a10" />
<circle cx="401.8" cy="285.8" r="0.9" fill="#7a5a10" />
<circle cx="408.4" cy="288.5" r="0.9" fill="#7a5a10" />
<circle cx="665.9" cy="294.3" r="12.2" fill="#f8f0a6" stroke="#e0cf70" stroke-width="0.6"/>
<circle cx="665.9" cy="294.3" r="5.8" fill="#111" />
<circle cx="664.6" cy="294.3" r="4.6" fill="#c4c4cc" />
<circle cx="675.2" cy="294.3" r="0.9" fill="#7a5a10" />
<circle cx="672.5" cy="300.9" r="0.9" fill="#7a5a10" />
<circle cx="665.9" cy="303.6" r="0.9" fill="#7a5a10" />
<circle cx="659.3" cy="300.9" r="0.9" fill="#7a5a10" />
<circle cx="656.6" cy="294.3" r="0.9" fill="#7a5a10" />
<circle cx="659.3" cy="287.7" r="0.9" fill="#7a5a10" />
<circle cx="665.9" cy="285.0" r="0.9" fill="#7a5a10" />
<circle cx="672.5" cy="287.7" r="0.9" fill="#7a5a10" />
<circle cx="401.7" cy="427.8" r="12.2" fill="#f8f0a6" stroke="#e0cf70" stroke-width="0.6"/>
<circle cx="401.7" cy="427.8" r="5.8" fill="#111" />
<circle cx="403.0" cy="427.8" r="4.6" fill="#c4c4cc" />
<circle cx="411.0" cy="427.8" r="0.9" fill="#7a5a10" />
<circle cx="408.3" cy="434.4" r="0.9" fill="#7a5a10" />
<circle cx="401.7" cy="437.1" r="0.9" fill="#7a5a10" />
<circle cx="395.1" cy="434.4" r="0.9" fill="#7a5a10" />
<circle cx="392.4" cy="427.8" r="0.9" fill="#7a5a10" />
<circle cx="395.1" cy="421.2" r="0.9" fill="#7a5a10" />
<circle cx="401.7" cy="418.5" r="0.9" fill="#7a5a10" />
<circle cx="408.3" cy="421.2" r="0.9" fill="#7a5a10" />
<circle cx="666.7" cy="428.0" r="12.2" fill="#f8f0a6" stroke="#e0cf70" stroke-width="0.6"/>
<circle cx="666.7" cy="428.0" r="5.8" fill="#111" />
<circle cx="665.4" cy="428.0" r="4.6" fill="#c4c4cc" />
<circle cx="676.0" cy="428.0" r="0.9" fill="#7a5a10" />
<circle cx="673.3" cy="434.6" r="0.9" fill="#7a5a10" />
<circle cx="666.7" cy="437.3" r="0.9" fill="#7a5a10" />
<circle cx="660.1" cy="434.6" r="0.9" fill="#7a5a10" />
<circle cx="657.4" cy="428.0" r="0.9" fill="#7a5a10" />
<circle cx="660.1" cy="421.4" r="0.9" fill="#7a5a10" />
<circle cx="666.7" cy="418.7" r="0.9" fill="#7a5a10" />
<circle cx="673.3" cy="421.4" r="0.9" fill="#7a5a10" />
<rect x="449.8" y="281.0" width="3.0" height="19.0" fill="#f0b828" />
<rect x="413.8" y="275.0" width="35.0" height="25.3" fill="#fdfdfd" stroke="#e2e2e2" stroke-width="0.5"/>
<rect x="421.4" y="283.3" width="2.5" height="16.4" fill="#4a4a4a" />
<rect x="435.8" y="283.3" width="1.3" height="16.4" fill="#777" />
<line x1="447.3" y1="281" x2="447.3" y2="300" stroke="#999" stroke-width="0.7"/>
<path d="M413.8,300.3 L418.3,308 L421.8,308 L417.8,300.3 Z" fill="#a0a0a0"/>
<path d="M442.8,300.3 L439.8,308 L443.3,308 L447.3,300.3 Z" fill="#a0a0a0"/>
<rect x="430.8" y="300.3" width="3.8" height="14.5" fill="#f7d248" />
<rect x="438.4" y="300.3" width="3.8" height="14.5" fill="#f7d248" />
<rect x="491.0" y="281.0" width="3.0" height="19.0" fill="#f0b828" />
<rect x="455.0" y="275.0" width="35.0" height="25.3" fill="#fdfdfd" stroke="#e2e2e2" stroke-width="0.5"/>
<rect x="462.6" y="283.3" width="2.5" height="16.4" fill="#4a4a4a" />
<rect x="477.0" y="283.3" width="1.3" height="16.4" fill="#777" />
<line x1="488.5" y1="281" x2="488.5" y2="300" stroke="#999" stroke-width="0.7"/>
<path d="M455,300.3 L459.5,308 L463,308 L459,300.3 Z" fill="#a0a0a0"/>
<path d="M484,300.3 L481,308 L484.5,308 L488.5,300.3 Z" fill="#a0a0a0"/>
<rect x="472.0" y="300.3" width="3.8" height="14.5" fill="#f7d248" />
<rect x="479.6" y="300.3" width="3.8" height="14.5" fill="#f7d248" />
<rect x="532.0" y="281.0" width="3.0" height="19.0" fill="#f0b828" />
<rect x="496.0" y="275.0" width="35.0" height="25.3" fill="#fdfdfd" stroke="#e2e2e2" stroke-width="0.5"/>
<rect x="503.6" y="283.3" width="2.5" height="16.4" fill="#4a4a4a" />
<rect x="518.0" y="283.3" width="1.3" height="16.4" fill="#777" />
<line x1="529.5" y1="281" x2="529.5" y2="300" stroke="#999" stroke-width="0.7"/>
<path d="M496,300.3 L500.5,308 L504,308 L500,300.3 Z" fill="#a0a0a0"/>
<path d="M525,300.3 L522,308 L525.5,308 L529.5,300.3 Z" fill="#a0a0a0"/>
<rect x="513.0" y="300.3" width="3.8" height="14.5" fill="#f7d248" />
<rect x="520.6" y="300.3" width="3.8" height="14.5" fill="#f7d248" />
<rect x="572.5" y="281.0" width="3.0" height="19.0" fill="#f0b828" />
<rect x="536.5" y="275.0" width="35.0" height="25.3" fill="#fdfdfd" stroke="#e2e2e2" stroke-width="0.5"/>
<rect x="544.1" y="283.3" width="2.5" height="16.4" fill="#4a4a4a" />
<rect x="558.5" y="283.3" width="1.3" height="16.4" fill="#777" />
<line x1="570.0" y1="281" x2="570.0" y2="300" stroke="#999" stroke-width="0.7"/>
<path d="M536.5,300.3 L541.0,308 L544.5,308 L540.5,300.3 Z" fill="#a0a0a0"/>
<path d="M565.5,300.3 L562.5,308 L566.0,308 L570.0,300.3 Z" fill="#a0a0a0"/>
<rect x="553.5" y="300.3" width="3.8" height="14.5" fill="#f7d248" />
<rect x="561.1" y="300.3" width="3.8" height="14.5" fill="#f7d248" />
<rect x="613.0" y="281.0" width="3.0" height="19.0" fill="#f0b828" />
<rect x="577.0" y="275.0" width="35.0" height="25.3" fill="#fdfdfd" stroke="#e2e2e2" stroke-width="0.5"/>
<rect x="584.6" y="283.3" width="2.5" height="16.4" fill="#4a4a4a" />
<rect x="599.0" y="283.3" width="1.3" height="16.4" fill="#777" />
<line x1="610.5" y1="281" x2="610.5" y2="300" stroke="#999" stroke-width="0.7"/>
<path d="M577,300.3 L581.5,308 L585,308 L581,300.3 Z" fill="#a0a0a0"/>
<path d="M606,300.3 L603,308 L606.5,308 L610.5,300.3 Z" fill="#a0a0a0"/>
<rect x="594.0" y="300.3" width="3.8" height="14.5" fill="#f7d248" />
<rect x="601.6" y="300.3" width="3.8" height="14.5" fill="#f7d248" />
<rect x="617.0" y="275.0" width="35.0" height="25.3" fill="#fdfdfd" stroke="#e2e2e2" stroke-width="0.5"/>
<rect x="624.6" y="283.3" width="2.5" height="16.4" fill="#4a4a4a" />
<rect x="639.0" y="283.3" width="1.3" height="16.4" fill="#777" />
<line x1="650.5" y1="281" x2="650.5" y2="300" stroke="#999" stroke-width="0.7"/>
<path d="M617,300.3 L621.5,308 L625,308 L621,300.3 Z" fill="#a0a0a0"/>
<path d="M646,300.3 L643,308 L646.5,308 L650.5,300.3 Z" fill="#a0a0a0"/>
<rect x="634.0" y="300.3" width="3.8" height="14.5" fill="#f7d248" />
<rect x="641.6" y="300.3" width="3.8" height="14.5" fill="#f7d248" />
<rect x="402.8" y="320.0" width="19.5" height="10.5" fill="#5a5a5a" />
<rect x="417.8" y="320.0" width="2.5" height="10.5" fill="#e6e6e6" />
<rect x="425.3" y="320.5" width="3.0" height="9.5" fill="#f5d070" />
<rect x="425.3" y="324.0" width="3.0" height="2.5" fill="#222" />
<rect x="431.3" y="320.5" width="3.0" height="9.5" fill="#f5d070" />
<rect x="431.3" y="324.0" width="3.0" height="2.5" fill="#222" />
<rect x="436.3" y="320.5" width="3.0" height="9.5" fill="#f5d070" />
<rect x="436.3" y="324.0" width="3.0" height="2.5" fill="#222" />
<rect x="448.0" y="320.0" width="19.5" height="10.5" fill="#5a5a5a" />
<rect x="463.0" y="320.0" width="2.5" height="10.5" fill="#e6e6e6" />
<rect x="470.5" y="320.5" width="3.0" height="9.5" fill="#f5d070" />
<rect x="470.5" y="324.0" width="3.0" height="2.5" fill="#222" />
<rect x="476.5" y="320.5" width="3.0" height="9.5" fill="#f5d070" />
<rect x="476.5" y="324.0" width="3.0" height="2.5" fill="#222" />
<rect x="481.5" y="320.5" width="3.0" height="9.5" fill="#f5d070" />
<rect x="481.5" y="324.0" width="3.0" height="2.5" fill="#222" />
<rect x="493.0" y="320.0" width="19.5" height="10.5" fill="#5a5a5a" />
<rect x="508.0" y="320.0" width="2.5" height="10.5" fill="#e6e6e6" />
<rect x="515.5" y="320.5" width="3.0" height="9.5" fill="#f5d070" />
<rect x="515.5" y="324.0" width="3.0" height="2.5" fill="#222" />
<rect x="521.5" y="320.5" width="3.0" height="9.5" fill="#f5d070" />
<rect x="521.5" y="324.0" width="3.0" height="2.5" fill="#222" />
<rect x="526.5" y="320.5" width="3.0" height="9.5" fill="#f5d070" />
<rect x="526.5" y="324.0" width="3.0" height="2.5" fill="#222" />
<rect x="539.8" y="320.0" width="19.5" height="10.5" fill="#5a5a5a" />
<rect x="554.8" y="320.0" width="2.5" height="10.5" fill="#e6e6e6" />
<rect x="562.3" y="320.5" width="3.0" height="9.5" fill="#f5d070" />
<rect x="562.3" y="324.0" width="3.0" height="2.5" fill="#222" />
<rect x="568.3" y="320.5" width="3.0" height="9.5" fill="#f5d070" />
<rect x="568.3" y="324.0" width="3.0" height="2.5" fill="#222" />
<rect x="573.3" y="320.5" width="3.0" height="9.5" fill="#f5d070" />
<rect x="573.3" y="324.0" width="3.0" height="2.5" fill="#222" />
<rect x="583.0" y="320.0" width="19.5" height="10.5" fill="#5a5a5a" />
<rect x="598.0" y="320.0" width="2.5" height="10.5" fill="#e6e6e6" />
<rect x="605.5" y="320.5" width="3.0" height="9.5" fill="#f5d070" />
<rect x="605.5" y="324.0" width="3.0" height="2.5" fill="#222" />
<rect x="611.5" y="320.5" width="3.0" height="9.5" fill="#f5d070" />
<rect x="611.5" y="324.0" width="3.0" height="2.5" fill="#222" />
<rect x="616.5" y="320.5" width="3.0" height="9.5" fill="#f5d070" />
<rect x="616.5" y="324.0" width="3.0" height="2.5" fill="#222" />
<rect x="629.0" y="320.0" width="19.5" height="10.5" fill="#5a5a5a" />
<rect x="644.0" y="320.0" width="2.5" height="10.5" fill="#e6e6e6" />
<rect x="651.5" y="320.5" width="3.0" height="9.5" fill="#f5d070" />
<rect x="651.5" y="324.0" width="3.0" height="2.5" fill="#222" />
<rect x="657.5" y="320.5" width="3.0" height="9.5" fill="#f5d070" />
<rect x="657.5" y="324.0" width="3.0" height="2.5" fill="#222" />
<rect x="662.5" y="320.5" width="3.0" height="9.5" fill="#f5d070" />
<rect x="662.5" y="324.0" width="3.0" height="2.5" fill="#222" />
<rect x="417.3" y="313" width="12.5" height="5" rx="1.5" fill="#8a2a10"/>
<rect x="444.8" y="313" width="9" height="5" rx="1.5" fill="#8a2a10"/>
<rect x="458.5" y="313" width="12.5" height="5" rx="1.5" fill="#8a2a10"/>
<rect x="486" y="313" width="9" height="5" rx="1.5" fill="#8a2a10"/>
<rect x="499.5" y="313" width="12.5" height="5" rx="1.5" fill="#8a2a10"/>
<rect x="527" y="313" width="9" height="5" rx="1.5" fill="#8a2a10"/>
<rect x="540.0" y="313" width="12.5" height="5" rx="1.5" fill="#8a2a10"/>
<rect x="567.5" y="313" width="9" height="5" rx="1.5" fill="#8a2a10"/>
<rect x="580.5" y="313" width="12.5" height="5" rx="1.5" fill="#8a2a10"/>
<rect x="608" y="313" width="9" height="5" rx="1.5" fill="#8a2a10"/>
<rect x="620.5" y="313" width="12.5" height="5" rx="1.5" fill="#8a2a10"/>
<rect x="648" y="313" width="9" height="5" rx="1.5" fill="#8a2a10"/>
<rect x="407.0" y="335.7" width="22.0" height="4.8" fill="#fff3d0" />
<rect x="405.0" y="340.3" width="26.0" height="24.0" fill="#575757" />
<rect x="429.5" y="340.3" width="1.5" height="24.0" fill="#333" />
<rect x="406.5" y="364.3" width="3.9" height="6.7" fill="#fbf2dc" />
<rect x="406.5" y="371.0" width="3.9" height="7.0" fill="#f8c850" />
<rect x="424.7" y="364.3" width="4.2" height="6.7" fill="#fbf2dc" />
<rect x="424.7" y="371.0" width="4.2" height="7.0" fill="#f8c850" />
<rect x="416.5" y="364.3" width="3.0" height="3.7" fill="#fbf2dc" />
<rect x="394.5" y="354.7" width="4.0" height="21.9" fill="#f5c860" />
<rect x="394.5" y="362.0" width="4.0" height="4.0" fill="#2a1a10" />
<rect x="453.7" y="335.7" width="22.0" height="4.8" fill="#fff3d0" />
<rect x="451.7" y="340.3" width="26.0" height="24.0" fill="#575757" />
<rect x="476.2" y="340.3" width="1.5" height="24.0" fill="#333" />
<rect x="453.2" y="364.3" width="3.9" height="6.7" fill="#fbf2dc" />
<rect x="453.2" y="371.0" width="3.9" height="7.0" fill="#f8c850" />
<rect x="471.4" y="364.3" width="4.2" height="6.7" fill="#fbf2dc" />
<rect x="471.4" y="371.0" width="4.2" height="7.0" fill="#f8c850" />
<rect x="463.2" y="364.3" width="3.0" height="3.7" fill="#fbf2dc" />
<rect x="441.2" y="354.7" width="4.0" height="21.9" fill="#f5c860" />
<rect x="441.2" y="362.0" width="4.0" height="4.0" fill="#2a1a10" />
<rect x="500.5" y="335.7" width="22.0" height="4.8" fill="#fff3d0" />
<rect x="498.5" y="340.3" width="26.0" height="24.0" fill="#575757" />
<rect x="523.0" y="340.3" width="1.5" height="24.0" fill="#333" />
<rect x="500.0" y="364.3" width="3.9" height="6.7" fill="#fbf2dc" />
<rect x="500.0" y="371.0" width="3.9" height="7.0" fill="#f8c850" />
<rect x="518.2" y="364.3" width="4.2" height="6.7" fill="#fbf2dc" />
<rect x="518.2" y="371.0" width="4.2" height="7.0" fill="#f8c850" />
<rect x="510.0" y="364.3" width="3.0" height="3.7" fill="#fbf2dc" />
<rect x="488.0" y="354.7" width="4.0" height="21.9" fill="#f5c860" />
<rect x="488.0" y="362.0" width="4.0" height="4.0" fill="#2a1a10" />
<rect x="546.0" y="335.7" width="22.0" height="4.8" fill="#fff3d0" />
<rect x="544.0" y="340.3" width="26.0" height="24.0" fill="#575757" />
<rect x="568.5" y="340.3" width="1.5" height="24.0" fill="#333" />
<rect x="545.5" y="364.3" width="3.9" height="6.7" fill="#fbf2dc" />
<rect x="545.5" y="371.0" width="3.9" height="7.0" fill="#f8c850" />
<rect x="563.7" y="364.3" width="4.2" height="6.7" fill="#fbf2dc" />
<rect x="563.7" y="371.0" width="4.2" height="7.0" fill="#f8c850" />
<rect x="555.5" y="364.3" width="3.0" height="3.7" fill="#fbf2dc" />
<rect x="533.5" y="354.7" width="4.0" height="21.9" fill="#f5c860" />
<rect x="533.5" y="362.0" width="4.0" height="4.0" fill="#2a1a10" />
<rect x="593.0" y="335.7" width="22.0" height="4.8" fill="#fff3d0" />
<rect x="591.0" y="340.3" width="26.0" height="24.0" fill="#575757" />
<rect x="615.5" y="340.3" width="1.5" height="24.0" fill="#333" />
<rect x="592.5" y="364.3" width="3.9" height="6.7" fill="#fbf2dc" />
<rect x="592.5" y="371.0" width="3.9" height="7.0" fill="#f8c850" />
<rect x="610.7" y="364.3" width="4.2" height="6.7" fill="#fbf2dc" />
<rect x="610.7" y="371.0" width="4.2" height="7.0" fill="#f8c850" />
<rect x="602.5" y="364.3" width="3.0" height="3.7" fill="#fbf2dc" />
<rect x="580.5" y="354.7" width="4.0" height="21.9" fill="#f5c860" />
<rect x="580.5" y="362.0" width="4.0" height="4.0" fill="#2a1a10" />
<rect x="638.5" y="335.7" width="22.0" height="4.8" fill="#fff3d0" />
<rect x="636.5" y="340.3" width="26.0" height="24.0" fill="#575757" />
<rect x="661.0" y="340.3" width="1.5" height="24.0" fill="#333" />
<rect x="638.0" y="364.3" width="3.9" height="6.7" fill="#fbf2dc" />
<rect x="638.0" y="371.0" width="3.9" height="7.0" fill="#f8c850" />
<rect x="656.2" y="364.3" width="4.2" height="6.7" fill="#fbf2dc" />
<rect x="656.2" y="371.0" width="4.2" height="7.0" fill="#f8c850" />
<rect x="648.0" y="364.3" width="3.0" height="3.7" fill="#fbf2dc" />
<rect x="626.0" y="354.7" width="4.0" height="21.9" fill="#f5c860" />
<rect x="626.0" y="362.0" width="4.0" height="4.0" fill="#2a1a10" />
<rect x="401.7" y="381.7" width="26.5" height="17.3" fill="#5c5c5c" />
<ellipse cx="432.7" cy="385" rx="3" ry="2.6" fill="#f6e4a0"/>
<circle cx="432.7" cy="385.0" r="1.1" fill="#3a2a10" />
<ellipse cx="432.7" cy="395" rx="3" ry="2.6" fill="#f6e4a0"/>
<circle cx="432.7" cy="395.0" r="1.1" fill="#3a2a10" />
<rect x="449.0" y="381.7" width="26.5" height="17.3" fill="#5c5c5c" />
<ellipse cx="480" cy="385" rx="3" ry="2.6" fill="#f6e4a0"/>
<circle cx="480.0" cy="385.0" r="1.1" fill="#3a2a10" />
<ellipse cx="480" cy="395" rx="3" ry="2.6" fill="#f6e4a0"/>
<circle cx="480.0" cy="395.0" r="1.1" fill="#3a2a10" />
<ellipse cx="443" cy="385" rx="3" ry="2.6" fill="#f6e4a0"/>
<circle cx="443.0" cy="385.0" r="1.1" fill="#3a2a10" />
<ellipse cx="443" cy="395" rx="3" ry="2.6" fill="#f6e4a0"/>
<circle cx="443.0" cy="395.0" r="1.1" fill="#3a2a10" />
<rect x="497.4" y="381.7" width="26.5" height="17.3" fill="#5c5c5c" />
<ellipse cx="528.4" cy="385" rx="3" ry="2.6" fill="#f6e4a0"/>
<circle cx="528.4" cy="385.0" r="1.1" fill="#3a2a10" />
<ellipse cx="528.4" cy="395" rx="3" ry="2.6" fill="#f6e4a0"/>
<circle cx="528.4" cy="395.0" r="1.1" fill="#3a2a10" />
<ellipse cx="491.4" cy="385" rx="3" ry="2.6" fill="#f6e4a0"/>
<circle cx="491.4" cy="385.0" r="1.1" fill="#3a2a10" />
<ellipse cx="491.4" cy="395" rx="3" ry="2.6" fill="#f6e4a0"/>
<circle cx="491.4" cy="395.0" r="1.1" fill="#3a2a10" />
<rect x="544.0" y="381.7" width="26.5" height="17.3" fill="#5c5c5c" />
<ellipse cx="575" cy="385" rx="3" ry="2.6" fill="#f6e4a0"/>
<circle cx="575.0" cy="385.0" r="1.1" fill="#3a2a10" />
<ellipse cx="575" cy="395" rx="3" ry="2.6" fill="#f6e4a0"/>
<circle cx="575.0" cy="395.0" r="1.1" fill="#3a2a10" />
<ellipse cx="538" cy="385" rx="3" ry="2.6" fill="#f6e4a0"/>
<circle cx="538.0" cy="385.0" r="1.1" fill="#3a2a10" />
<ellipse cx="538" cy="395" rx="3" ry="2.6" fill="#f6e4a0"/>
<circle cx="538.0" cy="395.0" r="1.1" fill="#3a2a10" />
<rect x="592.0" y="381.7" width="26.5" height="17.3" fill="#5c5c5c" />
<ellipse cx="623" cy="385" rx="3" ry="2.6" fill="#f6e4a0"/>
<circle cx="623.0" cy="385.0" r="1.1" fill="#3a2a10" />
<ellipse cx="623" cy="395" rx="3" ry="2.6" fill="#f6e4a0"/>
<circle cx="623.0" cy="395.0" r="1.1" fill="#3a2a10" />
<ellipse cx="586" cy="385" rx="3" ry="2.6" fill="#f6e4a0"/>
<circle cx="586.0" cy="385.0" r="1.1" fill="#3a2a10" />
<ellipse cx="586" cy="395" rx="3" ry="2.6" fill="#f6e4a0"/>
<circle cx="586.0" cy="395.0" r="1.1" fill="#3a2a10" />
<rect x="637.6" y="381.7" width="26.5" height="17.3" fill="#5c5c5c" />
<ellipse cx="668.6" cy="385" rx="3" ry="2.6" fill="#f6e4a0"/>
<circle cx="668.6" cy="385.0" r="1.1" fill="#3a2a10" />
<ellipse cx="668.6" cy="395" rx="3" ry="2.6" fill="#f6e4a0"/>
<circle cx="668.6" cy="395.0" r="1.1" fill="#3a2a10" />
<ellipse cx="631.6" cy="385" rx="3" ry="2.6" fill="#f6e4a0"/>
<circle cx="631.6" cy="385.0" r="1.1" fill="#3a2a10" />
<ellipse cx="631.6" cy="395" rx="3" ry="2.6" fill="#f6e4a0"/>
<circle cx="631.6" cy="395.0" r="1.1" fill="#3a2a10" />
<rect x="425" y="403" width="12" height="4.6" rx="1.5" fill="#8a2a10"/>
<rect x="459.5" y="403" width="15.5" height="4.6" rx="1.5" fill="#8a2a10"/>
<rect x="488" y="403" width="12" height="4.6" rx="1.5" fill="#8a2a10"/>
<rect x="522" y="403" width="15" height="4.6" rx="1.5" fill="#8a2a10"/>
<rect x="550" y="403" width="12" height="4.6" rx="1.5" fill="#8a2a10"/>
<rect x="584" y="403" width="14" height="4.6" rx="1.5" fill="#8a2a10"/>
<rect x="611" y="403" width="12" height="4.6" rx="1.5" fill="#8a2a10"/>
<rect x="640" y="403" width="10" height="4.6" rx="1.5" fill="#8a2a10"/>
<rect x="434.8" y="406.0" width="3.0" height="12.0" fill="#f7d248" />
<rect x="443.6" y="406.0" width="3.0" height="12.0" fill="#f7d248" />
<rect x="452.4" y="406.0" width="3.0" height="12.0" fill="#f7d248" />
<path d="M421.3,447 L421.3,421 L425.3,412 L429.3,412 L427.3,421 L462,421 L460,412 L464,412 L468,421 L468,447 Z" fill="#fdfdfd" stroke="#dedede" stroke-width="0.5"/>
<rect x="429.3" y="426.0" width="3.0" height="14.0" fill="#666" />
<rect x="457.0" y="426.0" width="3.0" height="14.0" fill="#777" />
<rect x="498.9" y="406.0" width="3.0" height="12.0" fill="#f7d248" />
<rect x="507.7" y="406.0" width="3.0" height="12.0" fill="#f7d248" />
<rect x="516.5" y="406.0" width="3.0" height="12.0" fill="#f7d248" />
<path d="M485.4,447 L485.4,421 L489.4,412 L493.4,412 L491.4,421 L521.8,421 L519.8,412 L523.8,412 L527.8,421 L527.8,447 Z" fill="#fdfdfd" stroke="#dedede" stroke-width="0.5"/>
<rect x="493.4" y="426.0" width="3.0" height="14.0" fill="#666" />
<rect x="516.8" y="426.0" width="3.0" height="14.0" fill="#777" />
<rect x="560.9" y="406.0" width="3.0" height="12.0" fill="#f7d248" />
<rect x="569.7" y="406.0" width="3.0" height="12.0" fill="#f7d248" />
<rect x="578.5" y="406.0" width="3.0" height="12.0" fill="#f7d248" />
<path d="M547.4,447 L547.4,421 L551.4,412 L555.4,412 L553.4,421 L583.8,421 L581.8,412 L585.8,412 L589.8,421 L589.8,447 Z" fill="#fdfdfd" stroke="#dedede" stroke-width="0.5"/>
<rect x="555.4" y="426.0" width="3.0" height="14.0" fill="#666" />
<rect x="578.8" y="426.0" width="3.0" height="14.0" fill="#777" />
<rect x="621.5" y="406.0" width="3.0" height="12.0" fill="#f7d248" />
<rect x="630.3" y="406.0" width="3.0" height="12.0" fill="#f7d248" />
<rect x="639.1" y="406.0" width="3.0" height="12.0" fill="#f7d248" />
<path d="M608,447 L608,421 L612,412 L616,412 L614,421 L645.7,421 L643.7,412 L647.7,412 L651.7,421 L651.7,447 Z" fill="#fdfdfd" stroke="#dedede" stroke-width="0.5"/>
<rect x="616.0" y="426.0" width="3.0" height="14.0" fill="#666" />
<rect x="640.7" y="426.0" width="3.0" height="14.0" fill="#777" />
<rect x="475.7" y="413.0" width="4.0" height="8.0" fill="#f6c850" />
<rect x="475.7" y="415.5" width="4.0" height="3.0" fill="#2a1a10" />
<rect x="475.7" y="428.6" width="4.0" height="9.0" fill="#f6c850" />
<rect x="475.7" y="431.6" width="4.0" height="3.0" fill="#2a1a10" />
<rect x="535.6" y="413.0" width="4.0" height="8.0" fill="#f6c850" />
<rect x="535.6" y="415.5" width="4.0" height="3.0" fill="#2a1a10" />
<rect x="535.6" y="428.6" width="4.0" height="9.0" fill="#f6c850" />
<rect x="535.6" y="431.6" width="4.0" height="3.0" fill="#2a1a10" />
<rect x="595.8" y="413.0" width="4.0" height="8.0" fill="#f6c850" />
<rect x="595.8" y="415.5" width="4.0" height="3.0" fill="#2a1a10" />
<rect x="595.8" y="428.6" width="4.0" height="9.0" fill="#f6c850" />
<rect x="595.8" y="431.6" width="4.0" height="3.0" fill="#2a1a10" />
<rect x="671.5" y="308.0" width="6.5" height="109.0" fill="#5a1808" />
<text x="0.0" y="0.0" font-size="6.5" fill="#f06040" font-weight="bold" transform="translate(677.2,416) rotate(-90)" textLength="106">SOLENOID VALVE CONTROL</text>
<text x="0.0" y="0.0" font-size="5.6" fill="#8a2a10" font-weight="bold" transform="translate(389.8,338) rotate(90)" textLength="65">DATE: 30 NOV 2023</text>
<text x="0.0" y="0.0" font-size="5.6" fill="#8a2a10" font-weight="bold" transform="translate(389.8,324.6) rotate(90)">SS</text>
</g>
</g>
</svg>
</body></html>
